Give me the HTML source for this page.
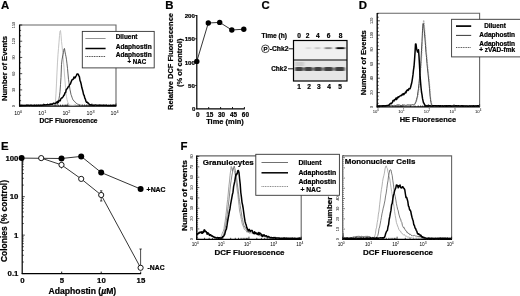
<!DOCTYPE html>
<html lang="en"><head><meta charset="utf-8"><title>Figure</title>
<style>html,body{margin:0;padding:0;background:#fff}body{width:520px;height:296px;overflow:hidden}svg{display:block;font-family:"Liberation Sans",Arial,Helvetica,sans-serif}text[font-weight=bold]{stroke:#000;stroke-width:0.22px;stroke-linejoin:round}</style></head><body>
<svg width="520" height="296" viewBox="0 0 520 296">
<defs><filter id="soft" x="-2%" y="-2%" width="104%" height="104%"><feGaussianBlur stdDeviation="0.28"/></filter><filter id="band" x="-20%" y="-50%" width="140%" height="200%"><feGaussianBlur stdDeviation="0.9 0.6"/></filter></defs>
<rect width="520" height="296" fill="#fff"/>
<g filter="url(#soft)">
<text x="1" y="9.3" font-size="11.4" text-anchor="start" font-weight="bold" fill="#000" >A</text>
<polyline points="19.6,25 116,25 116,106.1" fill="none" stroke="#666" stroke-width="1.1"/>
<line x1="19.6" y1="24.6" x2="19.6" y2="106.6" stroke="#000" stroke-width="1.3" />
<line x1="19.1" y1="106.1" x2="116.4" y2="106.1" stroke="#000" stroke-width="1.3" />
<line x1="19.60" y1="106.1" x2="19.60" y2="103.50" stroke="#000" stroke-width="0.7" />
<line x1="26.85" y1="106.1" x2="26.85" y2="104.60" stroke="#000" stroke-width="0.7" />
<line x1="31.10" y1="106.1" x2="31.10" y2="104.60" stroke="#000" stroke-width="0.7" />
<line x1="34.11" y1="106.1" x2="34.11" y2="104.60" stroke="#000" stroke-width="0.7" />
<line x1="36.45" y1="106.1" x2="36.45" y2="104.60" stroke="#000" stroke-width="0.7" />
<line x1="38.35" y1="106.1" x2="38.35" y2="104.60" stroke="#000" stroke-width="0.7" />
<line x1="39.97" y1="106.1" x2="39.97" y2="104.60" stroke="#000" stroke-width="0.7" />
<line x1="41.36" y1="106.1" x2="41.36" y2="104.60" stroke="#000" stroke-width="0.7" />
<line x1="42.60" y1="106.1" x2="42.60" y2="104.60" stroke="#000" stroke-width="0.7" />
<line x1="43.70" y1="106.1" x2="43.70" y2="103.50" stroke="#000" stroke-width="0.7" />
<line x1="50.95" y1="106.1" x2="50.95" y2="104.60" stroke="#000" stroke-width="0.7" />
<line x1="55.20" y1="106.1" x2="55.20" y2="104.60" stroke="#000" stroke-width="0.7" />
<line x1="58.21" y1="106.1" x2="58.21" y2="104.60" stroke="#000" stroke-width="0.7" />
<line x1="60.55" y1="106.1" x2="60.55" y2="104.60" stroke="#000" stroke-width="0.7" />
<line x1="62.45" y1="106.1" x2="62.45" y2="104.60" stroke="#000" stroke-width="0.7" />
<line x1="64.07" y1="106.1" x2="64.07" y2="104.60" stroke="#000" stroke-width="0.7" />
<line x1="65.46" y1="106.1" x2="65.46" y2="104.60" stroke="#000" stroke-width="0.7" />
<line x1="66.70" y1="106.1" x2="66.70" y2="104.60" stroke="#000" stroke-width="0.7" />
<line x1="67.80" y1="106.1" x2="67.80" y2="103.50" stroke="#000" stroke-width="0.7" />
<line x1="75.05" y1="106.1" x2="75.05" y2="104.60" stroke="#000" stroke-width="0.7" />
<line x1="79.30" y1="106.1" x2="79.30" y2="104.60" stroke="#000" stroke-width="0.7" />
<line x1="82.31" y1="106.1" x2="82.31" y2="104.60" stroke="#000" stroke-width="0.7" />
<line x1="84.65" y1="106.1" x2="84.65" y2="104.60" stroke="#000" stroke-width="0.7" />
<line x1="86.55" y1="106.1" x2="86.55" y2="104.60" stroke="#000" stroke-width="0.7" />
<line x1="88.17" y1="106.1" x2="88.17" y2="104.60" stroke="#000" stroke-width="0.7" />
<line x1="89.56" y1="106.1" x2="89.56" y2="104.60" stroke="#000" stroke-width="0.7" />
<line x1="90.80" y1="106.1" x2="90.80" y2="104.60" stroke="#000" stroke-width="0.7" />
<line x1="91.90" y1="106.1" x2="91.90" y2="103.50" stroke="#000" stroke-width="0.7" />
<line x1="99.15" y1="106.1" x2="99.15" y2="104.60" stroke="#000" stroke-width="0.7" />
<line x1="103.40" y1="106.1" x2="103.40" y2="104.60" stroke="#000" stroke-width="0.7" />
<line x1="106.41" y1="106.1" x2="106.41" y2="104.60" stroke="#000" stroke-width="0.7" />
<line x1="108.75" y1="106.1" x2="108.75" y2="104.60" stroke="#000" stroke-width="0.7" />
<line x1="110.65" y1="106.1" x2="110.65" y2="104.60" stroke="#000" stroke-width="0.7" />
<line x1="112.27" y1="106.1" x2="112.27" y2="104.60" stroke="#000" stroke-width="0.7" />
<line x1="113.66" y1="106.1" x2="113.66" y2="104.60" stroke="#000" stroke-width="0.7" />
<line x1="114.90" y1="106.1" x2="114.90" y2="104.60" stroke="#000" stroke-width="0.7" />
<line x1="116" y1="106.1" x2="116" y2="103.5" stroke="#000" stroke-width="0.7" />
<line x1="19.6" y1="106.10" x2="22.200000000000003" y2="106.10" stroke="#000" stroke-width="0.7" />
<line x1="19.6" y1="100.69" x2="21.1" y2="100.69" stroke="#000" stroke-width="0.7" />
<line x1="19.6" y1="95.29" x2="21.1" y2="95.29" stroke="#000" stroke-width="0.7" />
<line x1="19.6" y1="89.88" x2="22.200000000000003" y2="89.88" stroke="#000" stroke-width="0.7" />
<line x1="19.6" y1="84.47" x2="21.1" y2="84.47" stroke="#000" stroke-width="0.7" />
<line x1="19.6" y1="79.07" x2="21.1" y2="79.07" stroke="#000" stroke-width="0.7" />
<line x1="19.6" y1="73.66" x2="22.200000000000003" y2="73.66" stroke="#000" stroke-width="0.7" />
<line x1="19.6" y1="68.25" x2="21.1" y2="68.25" stroke="#000" stroke-width="0.7" />
<line x1="19.6" y1="62.85" x2="21.1" y2="62.85" stroke="#000" stroke-width="0.7" />
<line x1="19.6" y1="57.44" x2="22.200000000000003" y2="57.44" stroke="#000" stroke-width="0.7" />
<line x1="19.6" y1="52.03" x2="21.1" y2="52.03" stroke="#000" stroke-width="0.7" />
<line x1="19.6" y1="46.63" x2="21.1" y2="46.63" stroke="#000" stroke-width="0.7" />
<line x1="19.6" y1="41.22" x2="22.200000000000003" y2="41.22" stroke="#000" stroke-width="0.7" />
<line x1="19.6" y1="35.81" x2="21.1" y2="35.81" stroke="#000" stroke-width="0.7" />
<line x1="19.6" y1="30.41" x2="21.1" y2="30.41" stroke="#000" stroke-width="0.7" />
<line x1="19.6" y1="25.00" x2="22.200000000000003" y2="25.00" stroke="#000" stroke-width="0.7" />
<text transform="translate(15.0,106.1) rotate(-90)" font-size="3.8" text-anchor="middle" font-weight="normal" fill="#000">0</text>
<text transform="translate(15.0,89.9) rotate(-90)" font-size="3.8" text-anchor="middle" font-weight="normal" fill="#000">30</text>
<text transform="translate(15.0,73.7) rotate(-90)" font-size="3.8" text-anchor="middle" font-weight="normal" fill="#000">60</text>
<text transform="translate(15.0,57.4) rotate(-90)" font-size="3.8" text-anchor="middle" font-weight="normal" fill="#000">90</text>
<text transform="translate(15.0,41.2) rotate(-90)" font-size="3.8" text-anchor="middle" font-weight="normal" fill="#000">120</text>
<text transform="translate(15.0,25.0) rotate(-90)" font-size="3.8" text-anchor="middle" font-weight="normal" fill="#000">150</text>
<text x="18.2" y="115.0" font-size="5.3" text-anchor="middle" font-weight="normal" fill="#000">10<tspan dy="-2" font-size="3.8">0</tspan></text>
<text x="42.3" y="115.0" font-size="5.3" text-anchor="middle" font-weight="normal" fill="#000">10<tspan dy="-2" font-size="3.8">1</tspan></text>
<text x="66.4" y="115.0" font-size="5.3" text-anchor="middle" font-weight="normal" fill="#000">10<tspan dy="-2" font-size="3.8">2</tspan></text>
<text x="90.5" y="115.0" font-size="5.3" text-anchor="middle" font-weight="normal" fill="#000">10<tspan dy="-2" font-size="3.8">3</tspan></text>
<text x="114.6" y="115.0" font-size="5.3" text-anchor="middle" font-weight="normal" fill="#000">10<tspan dy="-2" font-size="3.8">4</tspan></text>
<text transform="translate(6.9,68.5) rotate(-90)" font-size="7.6" text-anchor="middle" font-weight="bold" textLength="65" lengthAdjust="spacingAndGlyphs" >Number of Events</text>
<text x="68.5" y="123.3" font-size="6.6" text-anchor="middle" font-weight="bold" fill="#000" textLength="58" lengthAdjust="spacingAndGlyphs" >DCF Fluorescence</text>
<polyline points="20.0,105.4 20.5,105.4 21.0,105.5 21.5,105.4 22.0,105.4 22.5,105.4 23.0,105.3 23.5,105.4 24.0,105.4 24.5,105.5 25.0,105.3 25.5,105.4 26.0,105.3 26.5,105.5 27.0,105.4 27.5,105.3 28.0,105.5 28.5,105.5 29.0,105.4 29.5,105.4 30.0,105.3 30.5,105.3 31.0,105.4 31.5,105.3 32.0,105.3 32.5,105.3 33.0,105.3 33.5,105.4 34.0,105.4 34.5,105.5 35.0,105.4 35.5,105.4 36.0,105.4 36.5,105.4 37.0,105.4 37.5,105.3 38.0,105.5 38.5,105.5 39.0,105.5 39.5,105.5 40.0,105.4 40.5,105.3 41.0,105.3 41.5,105.3 42.0,105.5 42.5,105.4 43.0,105.5 43.5,105.4 44.0,105.5 44.5,105.5 45.0,105.3 45.5,105.3 46.0,105.5 46.5,105.4 47.0,105.5 47.5,105.4 48.0,105.3 48.5,105.4 49.0,105.5 49.5,105.3 50.0,105.3 50.5,105.4 51.0,105.5 51.5,105.4 52.0,105.2 52.5,105.2 53.0,105.1 53.5,105.0 54.0,105.1 54.5,104.4 55.0,103.5 55.5,101.1 56.0,93.1 56.5,83.1 57.0,72.1 57.5,62.1 58.0,54.3 58.5,48.4 59.0,42.2 59.5,35.5 60.0,31.1 60.5,30.5 61.0,35.1 61.5,41.4 62.0,45.6 62.5,50.8 63.0,56.7 63.5,62.2 64.0,67.6 64.5,75.0 65.0,81.0 65.5,87.2 66.0,93.6 66.5,96.8 67.0,99.5 67.5,101.3 68.0,102.7 68.5,103.9 69.0,104.5 69.5,105.1 70.0,105.1 70.5,105.2 71.0,105.4 71.5,105.3 72.0,105.3 72.5,105.4 73.0,105.3 73.5,105.3 74.0,105.5 74.5,105.5 75.0,105.3 75.5,105.3 76.0,105.5" fill="none" stroke="#bdbdbd" stroke-width="0.9" stroke-linejoin="round" />
<polyline points="20.0,105.5 20.5,105.3 21.0,105.5 21.5,105.5 22.0,105.4 22.5,105.4 23.0,105.3 23.5,105.3 24.0,105.5 24.5,105.3 25.0,105.5 25.5,105.3 26.0,105.5 26.5,105.4 27.0,105.3 27.5,105.3 28.0,105.5 28.5,105.3 29.0,105.3 29.5,105.4 30.0,105.5 30.5,105.4 31.0,105.3 31.5,105.5 32.0,105.3 32.5,105.3 33.0,105.3 33.5,105.4 34.0,105.3 34.5,105.3 35.0,105.4 35.5,105.4 36.0,105.3 36.5,105.4 37.0,105.5 37.5,105.5 38.0,105.4 38.5,105.4 39.0,105.4 39.5,105.3 40.0,105.3 40.5,105.3 41.0,105.5 41.5,105.5 42.0,105.5 42.5,105.3 43.0,105.4 43.5,105.4 44.0,105.5 44.5,105.4 45.0,105.5 45.5,105.3 46.0,105.4 46.5,105.5 47.0,105.5 47.5,105.5 48.0,105.5 48.5,105.5 49.0,105.5 49.5,105.4 50.0,105.4 50.5,105.5 51.0,105.5 51.5,105.4 52.0,105.5 52.5,105.5 53.0,105.4 53.5,105.4 54.0,105.4 54.5,105.4 55.0,105.4 55.5,105.2 56.0,105.3 56.5,105.2 57.0,104.9 57.5,104.3 58.0,102.8 58.5,101.2 59.0,98.6 59.5,95.7 60.0,91.8 60.5,84.6 61.0,77.3 61.5,64.6 62.0,59.8 62.5,57.0 63.0,54.7 63.5,52.4 64.0,48.8 64.5,48.5 65.0,51.9 65.5,54.3 66.0,56.7 66.5,59.8 67.0,63.8 67.5,68.4 68.0,73.9 68.5,79.3 69.0,82.8 69.5,86.1 70.0,89.8 70.5,92.0 71.0,94.6 71.5,95.8 72.0,97.3 72.5,98.7 73.0,99.8 73.5,100.5 74.0,100.7 74.5,101.6 75.0,101.9 75.5,102.3 76.0,103.0 76.5,103.6 77.0,103.9 77.5,104.1 78.0,104.5 78.5,104.4 79.0,104.6 79.5,104.9 80.0,105.0 80.5,105.1 81.0,105.2 81.5,105.3 82.0,105.3 82.5,105.2 83.0,105.4 83.5,105.4 84.0,105.3 84.5,105.2 85.0,105.2 85.5,105.5 86.0,105.3 86.5,105.4 87.0,105.4 87.5,105.3 88.0,105.5 88.5,105.3 89.0,105.3 89.5,105.4 90.0,105.3" fill="none" stroke="#3a3a3a" stroke-width="0.8" stroke-linejoin="round" />
<polyline points="20.0,105.6 20.6,105.3 21.2,105.2 21.8,105.2 22.4,105.5 23.0,105.4 23.6,105.5 24.2,105.5 24.8,105.6 25.4,105.6 26.0,105.5 26.6,105.2 27.2,105.4 27.8,105.2 28.4,105.2 29.0,105.4 29.6,105.5 30.2,105.2 30.8,105.3 31.4,105.3 32.0,105.5 32.6,105.4 33.2,105.5 33.8,105.5 34.4,105.3 35.0,105.5 35.6,105.6 36.2,105.2 36.8,105.6 37.4,105.5 38.0,105.2 38.6,105.3 39.2,105.4 39.8,105.5 40.4,105.2 41.0,105.2 41.6,105.4 42.2,105.3 42.8,105.3 43.4,105.0 44.0,105.1 44.6,104.7 45.2,105.0 45.8,105.0 46.4,104.8 47.0,104.8 47.6,104.3 48.2,104.8 48.8,104.8 49.4,104.7 50.0,104.2 50.6,104.4 51.2,103.9 51.8,104.3 52.4,104.2 53.0,103.6 53.6,103.2 54.2,103.4 54.8,103.4 55.4,103.5 56.0,102.9 56.6,102.0 57.2,102.9 57.8,101.3 58.4,102.2 59.0,100.6 59.6,100.4 60.2,100.8 60.8,98.9 61.4,98.1 62.0,98.0 62.6,97.4 63.2,96.6 63.8,95.3 64.4,94.8 65.0,92.8 65.6,92.6 66.2,89.8 66.8,89.0 67.4,88.5 68.0,87.0 68.6,86.8 69.2,85.6 69.8,84.3 70.4,84.0 71.0,82.3 71.6,80.7 72.2,79.6 72.8,79.6 73.4,78.9 74.0,77.0 74.6,78.0 75.2,77.8 75.8,76.4 76.4,75.6 77.0,73.9 77.6,73.9 78.2,74.1 78.8,75.8 79.4,76.6 80.0,80.5 80.6,81.9 81.2,84.2 81.8,87.6 82.4,89.5 83.0,91.8 83.6,94.6 84.2,95.5 84.8,98.1 85.4,99.2 86.0,101.4 86.6,102.3 87.2,102.1 87.8,103.0 88.4,103.1 89.0,103.9 89.6,104.6 90.2,104.9 90.8,104.8 91.4,104.9 92.0,105.0 92.6,105.3 93.2,105.5 93.8,105.0 94.4,105.4 95.0,105.0 95.6,105.1 96.2,105.1 96.8,105.4 97.4,105.2 98.0,105.2 98.6,105.4 99.2,105.1 99.8,105.4 100.4,105.1 101.0,105.3 101.6,105.2 102.2,105.2 102.8,105.4 103.4,105.3 104.0,105.3 104.6,105.3 105.2,105.4 105.8,105.2 106.4,105.2 107.0,105.4 107.6,105.5 108.2,105.4 108.8,105.6 109.4,105.4 110.0,105.6 110.6,105.3 111.2,105.5 111.8,105.6 112.4,105.6 113.0,105.3 113.6,105.3 114.2,105.6 114.8,105.3 115.4,105.6 116.0,105.6" fill="none" stroke="#000" stroke-width="1.5" stroke-linejoin="round" />
<rect x="82.3" y="31.4" width="71.9" height="36.5" fill="#fff" stroke="#333" stroke-width="0.9"/>
<line x1="85.4" y1="38.5" x2="105.6" y2="38.5" stroke="#888" stroke-width="0.9" />
<line x1="85.4" y1="48.5" x2="105.6" y2="48.5" stroke="#000" stroke-width="1.5" />
<line x1="85.4" y1="56.5" x2="105.6" y2="56.5" stroke="#444" stroke-width="1.0" stroke-dasharray="1 0.7"/>
<text x="115.7" y="39.3" font-size="6.5" text-anchor="start" font-weight="bold" fill="#000" textLength="21.8" lengthAdjust="spacingAndGlyphs" >Diluent</text>
<text x="115.7" y="49.1" font-size="6.5" text-anchor="start" font-weight="bold" fill="#000" textLength="36" lengthAdjust="spacingAndGlyphs" >Adaphostin</text>
<text x="115.7" y="57.1" font-size="6.5" text-anchor="start" font-weight="bold" fill="#000" textLength="36" lengthAdjust="spacingAndGlyphs" >Adaphostin</text>
<text x="127.4" y="64.1" font-size="6.5" text-anchor="start" font-weight="bold" fill="#000" textLength="18.8" lengthAdjust="spacingAndGlyphs" >+ NAC</text>
<text x="165.2" y="9.3" font-size="11.4" text-anchor="start" font-weight="bold" fill="#000" >B</text>
<line x1="196.8" y1="15.1" x2="196.8" y2="109.3" stroke="#000" stroke-width="1.2" />
<line x1="196.3" y1="108.8" x2="244.8" y2="108.8" stroke="#000" stroke-width="1.2" />
<line x1="195.20000000000002" y1="85.475" x2="196.8" y2="85.475" stroke="#000" stroke-width="0.9" />
<line x1="195.20000000000002" y1="62.15" x2="196.8" y2="62.15" stroke="#000" stroke-width="0.9" />
<line x1="195.20000000000002" y1="38.825" x2="196.8" y2="38.825" stroke="#000" stroke-width="0.9" />
<line x1="195.20000000000002" y1="15.5" x2="196.8" y2="15.5" stroke="#000" stroke-width="0.9" />
<text x="195.4" y="111.2" font-size="6.2" text-anchor="end" font-weight="bold" fill="#000" >0</text>
<text x="195.0" y="88.07499999999999" font-size="6.2" text-anchor="end" font-weight="bold" fill="#000" >50</text>
<text x="195.0" y="64.75" font-size="6.2" text-anchor="end" font-weight="bold" fill="#000" >100</text>
<text x="195.0" y="41.425000000000004" font-size="6.2" text-anchor="end" font-weight="bold" fill="#000" >150</text>
<text x="195.0" y="18.1" font-size="6.2" text-anchor="end" font-weight="bold" fill="#000" >200</text>
<text x="197.8" y="116.6" font-size="6.4" text-anchor="middle" font-weight="bold" fill="#000" >0</text>
<line x1="208.70000000000002" y1="108.8" x2="208.70000000000002" y2="107.0" stroke="#000" stroke-width="0.9" />
<text x="209.70000000000002" y="116.6" font-size="6.4" text-anchor="middle" font-weight="bold" fill="#000" >15</text>
<line x1="220.60000000000002" y1="108.8" x2="220.60000000000002" y2="107.0" stroke="#000" stroke-width="0.9" />
<text x="221.60000000000002" y="116.6" font-size="6.4" text-anchor="middle" font-weight="bold" fill="#000" >30</text>
<line x1="232.5" y1="108.8" x2="232.5" y2="107.0" stroke="#000" stroke-width="0.9" />
<text x="233.5" y="116.6" font-size="6.4" text-anchor="middle" font-weight="bold" fill="#000" >45</text>
<line x1="244.4" y1="108.8" x2="244.4" y2="107.0" stroke="#000" stroke-width="0.9" />
<text x="245.4" y="116.6" font-size="6.4" text-anchor="middle" font-weight="bold" fill="#000" >60</text>
<text x="225" y="124.2" font-size="7.4" text-anchor="middle" font-weight="bold" fill="#000" textLength="37.6" lengthAdjust="spacingAndGlyphs" >Time (min)</text>
<text transform="translate(172.7,61.5) rotate(-90)" font-size="7.5" text-anchor="middle" font-weight="bold" textLength="97" lengthAdjust="spacingAndGlyphs" >Relative DCF Fluorescence</text>
<text transform="translate(181.9,62.8) rotate(-90)" font-size="7.5" text-anchor="middle" font-weight="bold" textLength="48.4" lengthAdjust="spacingAndGlyphs" >(% of control)</text>
<polyline points="196.8,61.4 208.3,23.0 219.7,22.4 231.8,30.0 243.8,29.2" fill="none" stroke="#000" stroke-width="0.8" stroke-linejoin="round" />
<circle cx="196.8" cy="61.4" r="2.7" fill="#000"/>
<circle cx="208.3" cy="23" r="2.7" fill="#000"/>
<circle cx="219.7" cy="22.4" r="2.7" fill="#000"/>
<circle cx="231.8" cy="30" r="2.7" fill="#000"/>
<circle cx="243.8" cy="29.2" r="2.7" fill="#000"/>
<text x="261.5" y="9.3" font-size="11.4" text-anchor="start" font-weight="bold" fill="#000" >C</text>
<text x="261.5" y="38.4" font-size="6.6" text-anchor="start" font-weight="bold" fill="#000" textLength="25.5" lengthAdjust="spacingAndGlyphs" >Time (h)</text>
<text x="299" y="38.4" font-size="6.6" text-anchor="middle" font-weight="bold" fill="#000" >0</text>
<text x="307.6" y="38.4" font-size="6.6" text-anchor="middle" font-weight="bold" fill="#000" >2</text>
<text x="317.8" y="38.4" font-size="6.6" text-anchor="middle" font-weight="bold" fill="#000" >4</text>
<text x="328.6" y="38.4" font-size="6.6" text-anchor="middle" font-weight="bold" fill="#000" >6</text>
<text x="340.5" y="38.4" font-size="6.6" text-anchor="middle" font-weight="bold" fill="#000" >8</text>
<rect x="293.5" y="40.5" width="53.5" height="40.5" fill="#e6e6e6" stroke="none"/>
<rect x="293.5" y="40.5" width="53.5" height="19.5" fill="#f1f1f1" stroke="none"/>
<g filter="url(#band)">
<rect x="306.0" y="47.2" width="5" height="1.9" fill="#888" opacity="0.22"/>
<rect x="314.75" y="47.2" width="5.5" height="1.9" fill="#777" opacity="0.33"/>
<rect x="324.7" y="47.2" width="7" height="1.9" fill="#444" opacity="0.62"/>
<rect x="336.09999999999997" y="47.2" width="8.6" height="1.9" fill="#111" opacity="1"/>
<rect x="295" y="67.6" width="50" height="3.0" fill="#777" opacity="0.8"/>
<rect x="295.2" y="67.1" width="7.6" height="4.0" rx="1.2" fill="#414141"/>
<rect x="304.59999999999997" y="67.1" width="7.6" height="4.0" rx="1.2" fill="#414141"/>
<rect x="314.2" y="67.1" width="7.6" height="4.0" rx="1.2" fill="#414141"/>
<rect x="324.09999999999997" y="67.1" width="8.6" height="4.0" rx="1.2" fill="#414141"/>
<rect x="335.09999999999997" y="67.1" width="9.2" height="4.0" rx="1.2" fill="#414141"/>
<rect x="295" y="62" width="9" height="4" fill="#bbb" opacity="0.6"/>
</g>
<rect x="293.5" y="40.5" width="53.5" height="40.5" fill="none" stroke="#000" stroke-width="1.2"/>
<line x1="293.5" y1="60" x2="347" y2="60" stroke="#000" stroke-width="1.2" />
<circle cx="265.4" cy="48.8" r="3.8" fill="#fff" stroke="#000" stroke-width="0.7"/>
<text x="265.5" y="51" font-size="6.0" text-anchor="middle" font-weight="bold" fill="#000" >P</text>
<text x="269.7" y="50.8" font-size="6.7" text-anchor="start" font-weight="bold" fill="#000" textLength="18.8" lengthAdjust="spacingAndGlyphs" >-Chk2</text>
<line x1="288.5" y1="48.8" x2="293.5" y2="48.8" stroke="#000" stroke-width="0.9" />
<text x="271.2" y="70.7" font-size="6.7" text-anchor="start" font-weight="bold" fill="#000" textLength="15.8" lengthAdjust="spacingAndGlyphs" >Chk2</text>
<line x1="288" y1="68.8" x2="293.5" y2="68.8" stroke="#000" stroke-width="0.9" />
<text x="299" y="88.7" font-size="6.6" text-anchor="middle" font-weight="bold" fill="#000" >1</text>
<text x="309" y="88.7" font-size="6.6" text-anchor="middle" font-weight="bold" fill="#000" >2</text>
<text x="318.9" y="88.7" font-size="6.6" text-anchor="middle" font-weight="bold" fill="#000" >3</text>
<text x="329.2" y="88.7" font-size="6.6" text-anchor="middle" font-weight="bold" fill="#000" >4</text>
<text x="340" y="88.7" font-size="6.6" text-anchor="middle" font-weight="bold" fill="#000" >5</text>
<text x="358.7" y="9.3" font-size="11.4" text-anchor="start" font-weight="bold" fill="#000" >D</text>
<polyline points="377.2,13.3 479.6,13.3 479.6,106.9" fill="none" stroke="#666" stroke-width="1.1"/>
<line x1="377.2" y1="12.9" x2="377.2" y2="107.4" stroke="#000" stroke-width="1.3" />
<line x1="376.7" y1="106.9" x2="480.0" y2="106.9" stroke="#000" stroke-width="1.3" />
<line x1="377.20" y1="106.9" x2="377.20" y2="104.30" stroke="#000" stroke-width="0.7" />
<line x1="384.91" y1="106.9" x2="384.91" y2="105.40" stroke="#000" stroke-width="0.7" />
<line x1="389.41" y1="106.9" x2="389.41" y2="105.40" stroke="#000" stroke-width="0.7" />
<line x1="392.61" y1="106.9" x2="392.61" y2="105.40" stroke="#000" stroke-width="0.7" />
<line x1="395.09" y1="106.9" x2="395.09" y2="105.40" stroke="#000" stroke-width="0.7" />
<line x1="397.12" y1="106.9" x2="397.12" y2="105.40" stroke="#000" stroke-width="0.7" />
<line x1="398.83" y1="106.9" x2="398.83" y2="105.40" stroke="#000" stroke-width="0.7" />
<line x1="400.32" y1="106.9" x2="400.32" y2="105.40" stroke="#000" stroke-width="0.7" />
<line x1="401.63" y1="106.9" x2="401.63" y2="105.40" stroke="#000" stroke-width="0.7" />
<line x1="402.80" y1="106.9" x2="402.80" y2="104.30" stroke="#000" stroke-width="0.7" />
<line x1="410.51" y1="106.9" x2="410.51" y2="105.40" stroke="#000" stroke-width="0.7" />
<line x1="415.01" y1="106.9" x2="415.01" y2="105.40" stroke="#000" stroke-width="0.7" />
<line x1="418.21" y1="106.9" x2="418.21" y2="105.40" stroke="#000" stroke-width="0.7" />
<line x1="420.69" y1="106.9" x2="420.69" y2="105.40" stroke="#000" stroke-width="0.7" />
<line x1="422.72" y1="106.9" x2="422.72" y2="105.40" stroke="#000" stroke-width="0.7" />
<line x1="424.43" y1="106.9" x2="424.43" y2="105.40" stroke="#000" stroke-width="0.7" />
<line x1="425.92" y1="106.9" x2="425.92" y2="105.40" stroke="#000" stroke-width="0.7" />
<line x1="427.23" y1="106.9" x2="427.23" y2="105.40" stroke="#000" stroke-width="0.7" />
<line x1="428.40" y1="106.9" x2="428.40" y2="104.30" stroke="#000" stroke-width="0.7" />
<line x1="436.11" y1="106.9" x2="436.11" y2="105.40" stroke="#000" stroke-width="0.7" />
<line x1="440.61" y1="106.9" x2="440.61" y2="105.40" stroke="#000" stroke-width="0.7" />
<line x1="443.81" y1="106.9" x2="443.81" y2="105.40" stroke="#000" stroke-width="0.7" />
<line x1="446.29" y1="106.9" x2="446.29" y2="105.40" stroke="#000" stroke-width="0.7" />
<line x1="448.32" y1="106.9" x2="448.32" y2="105.40" stroke="#000" stroke-width="0.7" />
<line x1="450.03" y1="106.9" x2="450.03" y2="105.40" stroke="#000" stroke-width="0.7" />
<line x1="451.52" y1="106.9" x2="451.52" y2="105.40" stroke="#000" stroke-width="0.7" />
<line x1="452.83" y1="106.9" x2="452.83" y2="105.40" stroke="#000" stroke-width="0.7" />
<line x1="454.00" y1="106.9" x2="454.00" y2="104.30" stroke="#000" stroke-width="0.7" />
<line x1="461.71" y1="106.9" x2="461.71" y2="105.40" stroke="#000" stroke-width="0.7" />
<line x1="466.21" y1="106.9" x2="466.21" y2="105.40" stroke="#000" stroke-width="0.7" />
<line x1="469.41" y1="106.9" x2="469.41" y2="105.40" stroke="#000" stroke-width="0.7" />
<line x1="471.89" y1="106.9" x2="471.89" y2="105.40" stroke="#000" stroke-width="0.7" />
<line x1="473.92" y1="106.9" x2="473.92" y2="105.40" stroke="#000" stroke-width="0.7" />
<line x1="475.63" y1="106.9" x2="475.63" y2="105.40" stroke="#000" stroke-width="0.7" />
<line x1="477.12" y1="106.9" x2="477.12" y2="105.40" stroke="#000" stroke-width="0.7" />
<line x1="478.43" y1="106.9" x2="478.43" y2="105.40" stroke="#000" stroke-width="0.7" />
<line x1="479.6" y1="106.9" x2="479.6" y2="104.30000000000001" stroke="#000" stroke-width="0.7" />
<line x1="377.2" y1="106.90" x2="379.8" y2="106.90" stroke="#000" stroke-width="0.7" />
<line x1="377.2" y1="103.31" x2="378.7" y2="103.31" stroke="#000" stroke-width="0.7" />
<line x1="377.2" y1="99.73" x2="378.7" y2="99.73" stroke="#000" stroke-width="0.7" />
<line x1="377.2" y1="96.14" x2="378.7" y2="96.14" stroke="#000" stroke-width="0.7" />
<line x1="377.2" y1="92.55" x2="379.8" y2="92.55" stroke="#000" stroke-width="0.7" />
<line x1="377.2" y1="88.96" x2="378.7" y2="88.96" stroke="#000" stroke-width="0.7" />
<line x1="377.2" y1="85.38" x2="378.7" y2="85.38" stroke="#000" stroke-width="0.7" />
<line x1="377.2" y1="81.79" x2="378.7" y2="81.79" stroke="#000" stroke-width="0.7" />
<line x1="377.2" y1="78.20" x2="379.8" y2="78.20" stroke="#000" stroke-width="0.7" />
<line x1="377.2" y1="74.61" x2="378.7" y2="74.61" stroke="#000" stroke-width="0.7" />
<line x1="377.2" y1="71.03" x2="378.7" y2="71.03" stroke="#000" stroke-width="0.7" />
<line x1="377.2" y1="67.44" x2="378.7" y2="67.44" stroke="#000" stroke-width="0.7" />
<line x1="377.2" y1="63.85" x2="379.8" y2="63.85" stroke="#000" stroke-width="0.7" />
<line x1="377.2" y1="60.26" x2="378.7" y2="60.26" stroke="#000" stroke-width="0.7" />
<line x1="377.2" y1="56.68" x2="378.7" y2="56.68" stroke="#000" stroke-width="0.7" />
<line x1="377.2" y1="53.09" x2="378.7" y2="53.09" stroke="#000" stroke-width="0.7" />
<line x1="377.2" y1="49.50" x2="379.8" y2="49.50" stroke="#000" stroke-width="0.7" />
<line x1="377.2" y1="45.91" x2="378.7" y2="45.91" stroke="#000" stroke-width="0.7" />
<line x1="377.2" y1="42.33" x2="378.7" y2="42.33" stroke="#000" stroke-width="0.7" />
<line x1="377.2" y1="38.74" x2="378.7" y2="38.74" stroke="#000" stroke-width="0.7" />
<line x1="377.2" y1="35.15" x2="379.8" y2="35.15" stroke="#000" stroke-width="0.7" />
<line x1="377.2" y1="31.56" x2="378.7" y2="31.56" stroke="#000" stroke-width="0.7" />
<line x1="377.2" y1="27.98" x2="378.7" y2="27.98" stroke="#000" stroke-width="0.7" />
<line x1="377.2" y1="24.39" x2="378.7" y2="24.39" stroke="#000" stroke-width="0.7" />
<line x1="377.2" y1="20.80" x2="379.8" y2="20.80" stroke="#000" stroke-width="0.7" />
<line x1="377.2" y1="17.21" x2="378.7" y2="17.21" stroke="#000" stroke-width="0.7" />
<line x1="377.2" y1="13.62" x2="378.7" y2="13.62" stroke="#000" stroke-width="0.7" />
<text transform="translate(373.0,106.9) rotate(-90)" font-size="3.8" text-anchor="middle" font-weight="normal" fill="#000">0</text>
<text transform="translate(373.0,92.6) rotate(-90)" font-size="3.8" text-anchor="middle" font-weight="normal" fill="#000">20</text>
<text transform="translate(373.0,78.2) rotate(-90)" font-size="3.8" text-anchor="middle" font-weight="normal" fill="#000">40</text>
<text transform="translate(373.0,63.9) rotate(-90)" font-size="3.8" text-anchor="middle" font-weight="normal" fill="#000">60</text>
<text transform="translate(373.0,49.5) rotate(-90)" font-size="3.8" text-anchor="middle" font-weight="normal" fill="#000">80</text>
<text transform="translate(373.0,35.2) rotate(-90)" font-size="3.8" text-anchor="middle" font-weight="normal" fill="#000">100</text>
<text transform="translate(373.0,20.8) rotate(-90)" font-size="3.8" text-anchor="middle" font-weight="normal" fill="#000">120</text>
<text x="375.8" y="112.9" font-size="4.2" text-anchor="middle" font-weight="normal" fill="#000">10<tspan dy="-2" font-size="3.0">0</tspan></text>
<text x="401.4" y="112.9" font-size="4.2" text-anchor="middle" font-weight="normal" fill="#000">10<tspan dy="-2" font-size="3.0">1</tspan></text>
<text x="427.0" y="112.9" font-size="4.2" text-anchor="middle" font-weight="normal" fill="#000">10<tspan dy="-2" font-size="3.0">2</tspan></text>
<text x="452.6" y="112.9" font-size="4.2" text-anchor="middle" font-weight="normal" fill="#000">10<tspan dy="-2" font-size="3.0">3</tspan></text>
<text x="478.2" y="112.9" font-size="4.2" text-anchor="middle" font-weight="normal" fill="#000">10<tspan dy="-2" font-size="3.0">4</tspan></text>
<text transform="translate(366.4,62.7) rotate(-90)" font-size="7.6" text-anchor="middle" font-weight="bold" textLength="65" lengthAdjust="spacingAndGlyphs" >Number of Events</text>
<text x="427.9" y="122" font-size="7.3" text-anchor="middle" font-weight="bold" fill="#000" textLength="56.5" lengthAdjust="spacingAndGlyphs" >HE Fluoresence</text>
<polyline points="377.5,105.9 378.0,105.9 378.5,106.1 379.0,105.9 379.5,105.9 380.0,106.1 380.5,106.0 381.0,106.1 381.5,105.9 382.0,105.9 382.5,106.0 383.0,105.8 383.5,105.9 384.0,106.0 384.5,106.1 385.0,106.1 385.5,105.8 386.0,105.9 386.5,106.0 387.0,105.9 387.5,106.0 388.0,105.8 388.5,105.7 389.0,105.7 389.5,105.7 390.0,105.9 390.5,105.8 391.0,105.9 391.5,105.7 392.0,105.7 392.5,105.7 393.0,105.9 393.5,105.9 394.0,105.8 394.5,105.3 395.0,105.2 395.5,105.5 396.0,105.2 396.5,105.3 397.0,105.0 397.5,105.0 398.0,105.0 398.5,105.0 399.0,105.1 399.5,104.9 400.0,105.4 400.5,105.5 401.0,105.3 401.5,105.5 402.0,105.6 402.5,105.4 403.0,105.3 403.5,105.3 404.0,105.4 404.5,105.1 405.0,105.5 405.5,105.4 406.0,105.3 406.5,105.3 407.0,105.2 407.5,105.0 408.0,105.1 408.5,105.0 409.0,105.2 409.5,105.1 410.0,104.7 410.5,105.1 411.0,105.0 411.5,105.0 412.0,105.0 412.5,104.7 413.0,105.0 413.5,104.9 414.0,104.7 414.5,104.4 415.0,103.8 415.5,102.4 416.0,101.6 416.5,99.4 417.0,98.0 417.5,95.6 418.0,91.8 418.5,88.3 419.0,83.5 419.5,78.2 420.0,72.7 420.5,68.3 421.0,60.2 421.5,50.2 422.0,41.5 422.5,30.9 423.0,23.4 423.5,23.3 424.0,28.4 424.5,33.2 425.0,38.9 425.5,45.5 426.0,52.5 426.5,57.3 427.0,63.6 427.5,68.8 428.0,73.1 428.5,78.1 429.0,82.7 429.5,88.7 430.0,95.0 430.5,99.6 431.0,102.5 431.5,104.6 432.0,105.2 432.5,105.6 433.0,106.0 433.5,105.9 434.0,106.1 434.5,106.0 435.0,106.0 435.5,105.8 436.0,106.0 436.5,106.0 437.0,105.8 437.5,106.1 438.0,105.8 438.5,105.9 439.0,105.8 439.5,105.9 440.0,106.0 440.5,105.8 441.0,106.1 441.5,105.9 442.0,106.0 442.5,106.0 443.0,105.9 443.5,105.9 444.0,106.0 444.5,106.0 445.0,105.9 445.5,106.0 446.0,105.9 446.5,105.8 447.0,105.9 447.5,105.8 448.0,105.8 448.5,106.1 449.0,105.9 449.5,106.1 450.0,106.1 450.5,105.8 451.0,106.1 451.5,106.1 452.0,105.8 452.5,106.1 453.0,106.0 453.5,106.0 454.0,106.1 454.5,105.9 455.0,106.0 455.5,106.1 456.0,106.1 456.5,106.0 457.0,106.2 457.5,106.1 458.0,106.0 458.5,105.9 459.0,106.0 459.5,106.0 460.0,105.9 460.5,105.8 461.0,106.0 461.5,105.9 462.0,106.0 462.5,106.1 463.0,106.0 463.5,105.9 464.0,106.0 464.5,106.0 465.0,106.1 465.5,106.0 466.0,106.2 466.5,106.2 467.0,106.1 467.5,105.9 468.0,105.9 468.5,106.1 469.0,106.1 469.5,106.0 470.0,105.9 470.5,105.9 471.0,106.1 471.5,106.0 472.0,106.0 472.5,106.0 473.0,106.1 473.5,105.9 474.0,105.9 474.5,106.2 475.0,106.1 475.5,106.1 476.0,105.8 476.5,105.8 477.0,105.9 477.5,106.0 478.0,106.0 478.5,105.9 479.0,106.0" fill="none" stroke="#222" stroke-width="0.9" stroke-linejoin="round" />
<polyline points="378.0,105.9 378.5,105.9 379.0,106.1 379.5,106.0 380.0,106.0 380.5,105.9 381.0,106.0 381.5,105.9 382.0,105.9 382.5,106.1 383.0,106.1 383.5,105.8 384.0,105.8 384.5,106.1 385.0,106.0 385.5,106.0 386.0,105.8 386.5,105.9 387.0,105.8 387.5,106.0 388.0,105.9 388.5,106.0 389.0,106.1 389.5,105.8 390.0,105.9 390.5,105.9 391.0,106.0 391.5,105.8 392.0,105.8 392.5,105.6 393.0,105.9 393.5,105.5 394.0,105.5 394.5,105.6 395.0,105.5 395.5,105.5 396.0,105.2 396.5,105.3 397.0,104.9 397.5,104.9 398.0,105.1 398.5,104.8 399.0,104.9 399.5,105.2 400.0,105.3 400.5,105.1 401.0,105.2 401.5,105.4 402.0,105.6 402.5,105.4 403.0,105.3 403.5,105.6 404.0,105.5 404.5,105.6 405.0,105.6 405.5,105.5 406.0,105.2 406.5,105.4 407.0,105.0 407.5,105.0 408.0,105.0 408.5,105.3 409.0,105.2 409.5,104.8 410.0,104.8 410.5,104.8 411.0,104.8 411.5,104.8 412.0,104.8 412.5,104.6 413.0,104.8 413.5,104.9 414.0,104.7 414.5,104.8 415.0,104.3 415.5,103.2 416.0,102.8 416.5,101.9 417.0,99.7 417.5,97.5 418.0,95.6 418.5,92.5 419.0,88.6 419.5,84.0 420.0,78.2 420.5,73.5 421.0,67.1 421.5,60.2 422.0,51.1 422.5,40.3 423.0,28.2 423.5,20.2 424.0,20.7 424.5,25.6 425.0,33.2 425.5,38.6 426.0,45.9 426.5,52.2 427.0,57.6 427.5,63.0 428.0,68.9 428.5,73.4 429.0,78.7 429.5,83.2 430.0,88.9 430.5,95.9 431.0,100.4 431.5,102.8 432.0,104.4 432.5,105.3 433.0,105.7 433.5,106.0 434.0,105.9 434.5,106.0 435.0,106.0 435.5,106.0 436.0,106.0 436.5,106.0 437.0,106.1 437.5,106.1 438.0,106.0 438.5,105.9 439.0,106.0 439.5,106.0 440.0,105.9 440.5,105.9 441.0,105.8 441.5,106.0 442.0,106.1 442.5,105.9 443.0,105.8 443.5,105.8 444.0,105.9 444.5,105.9 445.0,106.1 445.5,105.8 446.0,105.9 446.5,105.8 447.0,106.0 447.5,106.1 448.0,105.9 448.5,105.8 449.0,106.0 449.5,106.0 450.0,106.1 450.5,105.8 451.0,105.8 451.5,105.9 452.0,105.9 452.5,105.9 453.0,106.1 453.5,106.0 454.0,105.9 454.5,105.9 455.0,105.9 455.5,105.9 456.0,106.1 456.5,105.9 457.0,106.0 457.5,106.1 458.0,106.0 458.5,105.9 459.0,106.1 459.5,106.1 460.0,105.9 460.5,106.0 461.0,106.2 461.5,106.0 462.0,105.9 462.5,105.8 463.0,106.2 463.5,106.1 464.0,106.0 464.5,106.0 465.0,106.0 465.5,105.9 466.0,106.2 466.5,106.1 467.0,105.9 467.5,105.8 468.0,106.0 468.5,106.0 469.0,106.1 469.5,106.1 470.0,106.0 470.5,105.9 471.0,105.9 471.5,105.9 472.0,105.9 472.5,106.1 473.0,106.0 473.5,106.0 474.0,106.2 474.5,105.9 475.0,106.0 475.5,105.9 476.0,106.1 476.5,105.8 477.0,106.1 477.5,106.1 478.0,106.1 478.5,105.9 479.0,105.9 479.5,106.1" fill="none" stroke="#8a8a8a" stroke-width="0.8" stroke-linejoin="round" stroke-dasharray="1 0.7"/>
<polyline points="377.5,105.8 378.0,106.0 378.5,106.0 379.0,106.2 379.5,106.0 380.0,106.2 380.5,105.9 381.0,106.1 381.5,105.9 382.0,106.2 382.5,105.8 383.0,106.1 383.5,105.8 384.0,106.0 384.5,105.9 385.0,105.7 385.5,106.1 386.0,105.8 386.5,105.8 387.0,105.5 387.5,105.5 388.0,105.4 388.5,105.4 389.0,104.9 389.5,104.8 390.0,103.8 390.5,103.6 391.0,103.2 391.5,103.6 392.0,102.9 392.5,102.2 393.0,100.4 393.5,100.7 394.0,100.9 394.5,99.6 395.0,99.8 395.5,99.2 396.0,98.0 396.5,99.6 397.0,98.9 397.5,97.3 398.0,97.8 398.5,96.8 399.0,96.7 399.5,96.7 400.0,95.9 400.5,95.7 401.0,95.4 401.5,95.7 402.0,94.5 402.5,94.1 403.0,94.8 403.5,93.6 404.0,94.5 404.5,93.4 405.0,93.3 405.5,92.1 406.0,92.7 406.5,90.8 407.0,90.4 407.5,89.8 408.0,90.4 408.5,89.9 409.0,88.4 409.5,88.4 410.0,88.8 410.5,87.7 411.0,85.5 411.5,83.8 412.0,81.3 412.5,78.1 413.0,74.7 413.5,69.8 414.0,66.7 414.5,60.2 415.0,52.9 415.5,44.1 416.0,44.1 416.5,48.1 417.0,50.3 417.5,52.1 418.0,51.3 418.5,49.8 419.0,56.4 419.5,65.3 420.0,75.0 420.5,81.5 421.0,87.3 421.5,92.0 422.0,94.6 422.5,98.4 423.0,100.7 423.5,102.8 424.0,103.2 424.5,104.5 425.0,105.3 425.5,105.9 426.0,106.0 426.5,105.9 427.0,105.6 427.5,106.0 428.0,106.0 428.5,105.9 429.0,105.8 429.5,105.8 430.0,105.6 430.5,106.0 431.0,106.1 431.5,105.9 432.0,106.0 432.5,106.0 433.0,105.7 433.5,106.1 434.0,105.9 434.5,105.7 435.0,105.7 435.5,105.8 436.0,105.9 436.5,106.0 437.0,105.8 437.5,106.1 438.0,105.8 438.5,105.9 439.0,105.7 439.5,106.2 440.0,105.7 440.5,106.1 441.0,105.9 441.5,106.0 442.0,106.0 442.5,105.8 443.0,106.1 443.5,106.2 444.0,106.1 444.5,106.0 445.0,105.8 445.5,106.1 446.0,105.8 446.5,106.2 447.0,105.8 447.5,106.0 448.0,106.1 448.5,105.8 449.0,106.0 449.5,105.7 450.0,105.7 450.5,105.8 451.0,106.2 451.5,106.2 452.0,106.1 452.5,105.9 453.0,106.1 453.5,106.1 454.0,105.9 454.5,106.0 455.0,106.1 455.5,105.7 456.0,105.8 456.5,106.0 457.0,105.8 457.5,105.9 458.0,106.0 458.5,105.8 459.0,106.0 459.5,105.9 460.0,106.0 460.5,105.9 461.0,106.1 461.5,105.8 462.0,106.1 462.5,105.8 463.0,106.2 463.5,106.0 464.0,106.0 464.5,106.0 465.0,106.1 465.5,106.1 466.0,106.1 466.5,106.1 467.0,106.0 467.5,106.2 468.0,106.2 468.5,106.2 469.0,106.0 469.5,106.0 470.0,106.0 470.5,106.2 471.0,106.0 471.5,106.0 472.0,106.0 472.5,106.2 473.0,105.9 473.5,105.8 474.0,106.1 474.5,106.2 475.0,106.1 475.5,106.0 476.0,106.1 476.5,105.9 477.0,106.0 477.5,105.8 478.0,105.8 478.5,106.0 479.0,106.0" fill="none" stroke="#000" stroke-width="1.5" stroke-linejoin="round" />
<rect x="451.6" y="19.3" width="72" height="37.6" fill="#fff" stroke="#333" stroke-width="0.9"/>
<line x1="456" y1="26.1" x2="471.2" y2="26.1" stroke="#000" stroke-width="1.7" />
<line x1="456" y1="35.4" x2="471.2" y2="35.4" stroke="#222" stroke-width="0.9" />
<line x1="456" y1="47.5" x2="471.2" y2="47.5" stroke="#555" stroke-width="1.0" stroke-dasharray="1 0.7"/>
<text x="484.2" y="27.8" font-size="6.4" text-anchor="start" font-weight="bold" fill="#000" textLength="21.6" lengthAdjust="spacingAndGlyphs" >Diluent</text>
<text x="479.2" y="36.8" font-size="6.5" text-anchor="start" font-weight="bold" fill="#000" textLength="35.9" lengthAdjust="spacingAndGlyphs" >Adaphostin</text>
<text x="479.2" y="45.5" font-size="6.5" text-anchor="start" font-weight="bold" fill="#000" textLength="35.9" lengthAdjust="spacingAndGlyphs" >Adaphostin</text>
<text x="479.2" y="52.3" font-size="6.5" text-anchor="start" font-weight="bold" fill="#000" textLength="35.9" lengthAdjust="spacingAndGlyphs" >+ zVAD-fmk</text>
<text x="1" y="149.6" font-size="11.4" text-anchor="start" font-weight="bold" fill="#000" >E</text>
<line x1="22.2" y1="157.7" x2="22.2" y2="274.1" stroke="#000" stroke-width="1.2" />
<line x1="21.7" y1="273.6" x2="141.1" y2="273.6" stroke="#000" stroke-width="1.2" />
<line x1="22.2" y1="273.60" x2="24.8" y2="273.60" stroke="#000" stroke-width="0.7" />
<line x1="22.2" y1="262.02" x2="23.8" y2="262.02" stroke="#000" stroke-width="0.7" />
<line x1="22.2" y1="255.25" x2="23.8" y2="255.25" stroke="#000" stroke-width="0.7" />
<line x1="22.2" y1="250.44" x2="23.8" y2="250.44" stroke="#000" stroke-width="0.7" />
<line x1="22.2" y1="246.71" x2="23.8" y2="246.71" stroke="#000" stroke-width="0.7" />
<line x1="22.2" y1="243.67" x2="23.8" y2="243.67" stroke="#000" stroke-width="0.7" />
<line x1="22.2" y1="241.09" x2="23.8" y2="241.09" stroke="#000" stroke-width="0.7" />
<line x1="22.2" y1="238.86" x2="23.8" y2="238.86" stroke="#000" stroke-width="0.7" />
<line x1="22.2" y1="236.89" x2="23.8" y2="236.89" stroke="#000" stroke-width="0.7" />
<line x1="22.2" y1="235.13" x2="24.8" y2="235.13" stroke="#000" stroke-width="0.7" />
<line x1="22.2" y1="223.55" x2="23.8" y2="223.55" stroke="#000" stroke-width="0.7" />
<line x1="22.2" y1="216.78" x2="23.8" y2="216.78" stroke="#000" stroke-width="0.7" />
<line x1="22.2" y1="211.97" x2="23.8" y2="211.97" stroke="#000" stroke-width="0.7" />
<line x1="22.2" y1="208.25" x2="23.8" y2="208.25" stroke="#000" stroke-width="0.7" />
<line x1="22.2" y1="205.20" x2="23.8" y2="205.20" stroke="#000" stroke-width="0.7" />
<line x1="22.2" y1="202.63" x2="23.8" y2="202.63" stroke="#000" stroke-width="0.7" />
<line x1="22.2" y1="200.39" x2="23.8" y2="200.39" stroke="#000" stroke-width="0.7" />
<line x1="22.2" y1="198.43" x2="23.8" y2="198.43" stroke="#000" stroke-width="0.7" />
<line x1="22.2" y1="196.67" x2="24.8" y2="196.67" stroke="#000" stroke-width="0.7" />
<line x1="22.2" y1="185.09" x2="23.8" y2="185.09" stroke="#000" stroke-width="0.7" />
<line x1="22.2" y1="178.31" x2="23.8" y2="178.31" stroke="#000" stroke-width="0.7" />
<line x1="22.2" y1="173.51" x2="23.8" y2="173.51" stroke="#000" stroke-width="0.7" />
<line x1="22.2" y1="169.78" x2="23.8" y2="169.78" stroke="#000" stroke-width="0.7" />
<line x1="22.2" y1="166.73" x2="23.8" y2="166.73" stroke="#000" stroke-width="0.7" />
<line x1="22.2" y1="164.16" x2="23.8" y2="164.16" stroke="#000" stroke-width="0.7" />
<line x1="22.2" y1="161.93" x2="23.8" y2="161.93" stroke="#000" stroke-width="0.7" />
<line x1="22.2" y1="159.96" x2="23.8" y2="159.96" stroke="#000" stroke-width="0.7" />
<text x="18.4" y="161.0" font-size="7.8" text-anchor="end" font-weight="bold" fill="#000" >100</text>
<text x="18.4" y="199.4666666666667" font-size="7.8" text-anchor="end" font-weight="bold" fill="#000" >10</text>
<text x="18.4" y="237.93333333333337" font-size="7.8" text-anchor="end" font-weight="bold" fill="#000" >1</text>
<text x="18.4" y="276.40000000000003" font-size="7.8" text-anchor="end" font-weight="bold" fill="#000" >0.1</text>
<text x="22.4" y="283.4" font-size="7.8" text-anchor="middle" font-weight="bold" fill="#000" >0</text>
<line x1="61.7" y1="273.6" x2="61.7" y2="271.6" stroke="#000" stroke-width="0.9" />
<text x="61.900000000000006" y="283.4" font-size="7.8" text-anchor="middle" font-weight="bold" fill="#000" >5</text>
<line x1="101.2" y1="273.6" x2="101.2" y2="271.6" stroke="#000" stroke-width="0.9" />
<text x="101.4" y="283.4" font-size="7.8" text-anchor="middle" font-weight="bold" fill="#000" >10</text>
<line x1="140.7" y1="273.6" x2="140.7" y2="271.6" stroke="#000" stroke-width="0.9" />
<text x="140.89999999999998" y="283.4" font-size="7.8" text-anchor="middle" font-weight="bold" fill="#000" >15</text>
<text x="82.4" y="293.5" font-size="8.4" text-anchor="middle" font-weight="bold" textLength="67.7" lengthAdjust="spacingAndGlyphs">Adaphostin (<tspan font-style="italic">µ</tspan>M)</text>
<text transform="translate(7.0,221) rotate(-90)" font-size="8.4" text-anchor="middle" font-weight="bold" textLength="82" lengthAdjust="spacingAndGlyphs" >Colonies (% control)</text>
<polyline points="21.6,158.1 61.5,158.5 81.2,156.4 101.2,172.5 140.6,189.0" fill="none" stroke="#000" stroke-width="0.8" stroke-linejoin="round" />
<polyline points="41.2,158.1 61.5,164.9 81.2,178.9 101.2,195.0 140.6,267.8" fill="none" stroke="#000" stroke-width="0.8" stroke-linejoin="round" />
<line x1="101.2" y1="190.8" x2="101.2" y2="201" stroke="#000" stroke-width="0.7" />
<line x1="100" y1="190.8" x2="102.4" y2="190.8" stroke="#000" stroke-width="0.7" />
<line x1="100" y1="201" x2="102.4" y2="201" stroke="#000" stroke-width="0.7" />
<line x1="140.6" y1="249" x2="140.6" y2="268" stroke="#000" stroke-width="0.7" />
<line x1="139.4" y1="249" x2="141.8" y2="249" stroke="#000" stroke-width="0.7" />
<line x1="61.5" y1="162" x2="61.5" y2="168.5" stroke="#000" stroke-width="0.7" />
<circle cx="21.6" cy="158.1" r="3.0" fill="#000"/>
<circle cx="61.5" cy="158.5" r="3.0" fill="#000"/>
<circle cx="81.2" cy="156.4" r="3.0" fill="#000"/>
<circle cx="101.2" cy="172.5" r="3.0" fill="#000"/>
<circle cx="140.6" cy="189" r="3.0" fill="#000"/>
<circle cx="41.2" cy="158.1" r="2.6" fill="#fff" stroke="#000" stroke-width="0.9"/>
<circle cx="61.5" cy="164.9" r="2.6" fill="#fff" stroke="#000" stroke-width="0.9"/>
<circle cx="81.2" cy="178.9" r="2.6" fill="#fff" stroke="#000" stroke-width="0.9"/>
<circle cx="101.2" cy="195" r="2.6" fill="#fff" stroke="#000" stroke-width="0.9"/>
<circle cx="140.6" cy="267.8" r="2.6" fill="#fff" stroke="#000" stroke-width="0.9"/>
<text x="146.6" y="191.5" font-size="6.9" text-anchor="start" font-weight="bold" fill="#000" textLength="19" lengthAdjust="spacingAndGlyphs" >+NAC</text>
<text x="147.6" y="270.1" font-size="6.9" text-anchor="start" font-weight="bold" fill="#000" textLength="17" lengthAdjust="spacingAndGlyphs" >-NAC</text>
<text x="180.5" y="149.6" font-size="11.4" text-anchor="start" font-weight="bold" fill="#000" >F</text>
<polyline points="196.7,155.9 301.2,155.9 301.2,239.3" fill="none" stroke="#666" stroke-width="1.1"/>
<line x1="196.7" y1="155.5" x2="196.7" y2="239.8" stroke="#000" stroke-width="1.3" />
<line x1="196.2" y1="239.3" x2="301.59999999999997" y2="239.3" stroke="#000" stroke-width="1.3" />
<line x1="196.70" y1="239.3" x2="196.70" y2="236.70" stroke="#000" stroke-width="0.7" />
<line x1="204.56" y1="239.3" x2="204.56" y2="237.80" stroke="#000" stroke-width="0.7" />
<line x1="209.16" y1="239.3" x2="209.16" y2="237.80" stroke="#000" stroke-width="0.7" />
<line x1="212.43" y1="239.3" x2="212.43" y2="237.80" stroke="#000" stroke-width="0.7" />
<line x1="214.96" y1="239.3" x2="214.96" y2="237.80" stroke="#000" stroke-width="0.7" />
<line x1="217.03" y1="239.3" x2="217.03" y2="237.80" stroke="#000" stroke-width="0.7" />
<line x1="218.78" y1="239.3" x2="218.78" y2="237.80" stroke="#000" stroke-width="0.7" />
<line x1="220.29" y1="239.3" x2="220.29" y2="237.80" stroke="#000" stroke-width="0.7" />
<line x1="221.63" y1="239.3" x2="221.63" y2="237.80" stroke="#000" stroke-width="0.7" />
<line x1="222.82" y1="239.3" x2="222.82" y2="236.70" stroke="#000" stroke-width="0.7" />
<line x1="230.69" y1="239.3" x2="230.69" y2="237.80" stroke="#000" stroke-width="0.7" />
<line x1="235.29" y1="239.3" x2="235.29" y2="237.80" stroke="#000" stroke-width="0.7" />
<line x1="238.55" y1="239.3" x2="238.55" y2="237.80" stroke="#000" stroke-width="0.7" />
<line x1="241.09" y1="239.3" x2="241.09" y2="237.80" stroke="#000" stroke-width="0.7" />
<line x1="243.15" y1="239.3" x2="243.15" y2="237.80" stroke="#000" stroke-width="0.7" />
<line x1="244.90" y1="239.3" x2="244.90" y2="237.80" stroke="#000" stroke-width="0.7" />
<line x1="246.42" y1="239.3" x2="246.42" y2="237.80" stroke="#000" stroke-width="0.7" />
<line x1="247.75" y1="239.3" x2="247.75" y2="237.80" stroke="#000" stroke-width="0.7" />
<line x1="248.95" y1="239.3" x2="248.95" y2="236.70" stroke="#000" stroke-width="0.7" />
<line x1="256.81" y1="239.3" x2="256.81" y2="237.80" stroke="#000" stroke-width="0.7" />
<line x1="261.41" y1="239.3" x2="261.41" y2="237.80" stroke="#000" stroke-width="0.7" />
<line x1="264.68" y1="239.3" x2="264.68" y2="237.80" stroke="#000" stroke-width="0.7" />
<line x1="267.21" y1="239.3" x2="267.21" y2="237.80" stroke="#000" stroke-width="0.7" />
<line x1="269.28" y1="239.3" x2="269.28" y2="237.80" stroke="#000" stroke-width="0.7" />
<line x1="271.03" y1="239.3" x2="271.03" y2="237.80" stroke="#000" stroke-width="0.7" />
<line x1="272.54" y1="239.3" x2="272.54" y2="237.80" stroke="#000" stroke-width="0.7" />
<line x1="273.88" y1="239.3" x2="273.88" y2="237.80" stroke="#000" stroke-width="0.7" />
<line x1="275.07" y1="239.3" x2="275.07" y2="236.70" stroke="#000" stroke-width="0.7" />
<line x1="282.94" y1="239.3" x2="282.94" y2="237.80" stroke="#000" stroke-width="0.7" />
<line x1="287.54" y1="239.3" x2="287.54" y2="237.80" stroke="#000" stroke-width="0.7" />
<line x1="290.80" y1="239.3" x2="290.80" y2="237.80" stroke="#000" stroke-width="0.7" />
<line x1="293.34" y1="239.3" x2="293.34" y2="237.80" stroke="#000" stroke-width="0.7" />
<line x1="295.40" y1="239.3" x2="295.40" y2="237.80" stroke="#000" stroke-width="0.7" />
<line x1="297.15" y1="239.3" x2="297.15" y2="237.80" stroke="#000" stroke-width="0.7" />
<line x1="298.67" y1="239.3" x2="298.67" y2="237.80" stroke="#000" stroke-width="0.7" />
<line x1="300.00" y1="239.3" x2="300.00" y2="237.80" stroke="#000" stroke-width="0.7" />
<line x1="301.2" y1="239.3" x2="301.2" y2="236.70000000000002" stroke="#000" stroke-width="0.7" />
<line x1="196.7" y1="239.30" x2="199.29999999999998" y2="239.30" stroke="#000" stroke-width="0.6" />
<line x1="196.7" y1="237.23" x2="198.1" y2="237.23" stroke="#000" stroke-width="0.6" />
<line x1="196.7" y1="235.16" x2="198.1" y2="235.16" stroke="#000" stroke-width="0.6" />
<line x1="196.7" y1="233.09" x2="198.1" y2="233.09" stroke="#000" stroke-width="0.6" />
<line x1="196.7" y1="231.02" x2="198.1" y2="231.02" stroke="#000" stroke-width="0.6" />
<line x1="196.7" y1="228.95" x2="199.29999999999998" y2="228.95" stroke="#000" stroke-width="0.6" />
<line x1="196.7" y1="226.88" x2="198.1" y2="226.88" stroke="#000" stroke-width="0.6" />
<line x1="196.7" y1="224.81" x2="198.1" y2="224.81" stroke="#000" stroke-width="0.6" />
<line x1="196.7" y1="222.74" x2="198.1" y2="222.74" stroke="#000" stroke-width="0.6" />
<line x1="196.7" y1="220.67" x2="198.1" y2="220.67" stroke="#000" stroke-width="0.6" />
<line x1="196.7" y1="218.60" x2="199.29999999999998" y2="218.60" stroke="#000" stroke-width="0.6" />
<line x1="196.7" y1="216.53" x2="198.1" y2="216.53" stroke="#000" stroke-width="0.6" />
<line x1="196.7" y1="214.46" x2="198.1" y2="214.46" stroke="#000" stroke-width="0.6" />
<line x1="196.7" y1="212.39" x2="198.1" y2="212.39" stroke="#000" stroke-width="0.6" />
<line x1="196.7" y1="210.32" x2="198.1" y2="210.32" stroke="#000" stroke-width="0.6" />
<line x1="196.7" y1="208.25" x2="199.29999999999998" y2="208.25" stroke="#000" stroke-width="0.6" />
<line x1="196.7" y1="206.18" x2="198.1" y2="206.18" stroke="#000" stroke-width="0.6" />
<line x1="196.7" y1="204.11" x2="198.1" y2="204.11" stroke="#000" stroke-width="0.6" />
<line x1="196.7" y1="202.04" x2="198.1" y2="202.04" stroke="#000" stroke-width="0.6" />
<line x1="196.7" y1="199.97" x2="198.1" y2="199.97" stroke="#000" stroke-width="0.6" />
<line x1="196.7" y1="197.90" x2="199.29999999999998" y2="197.90" stroke="#000" stroke-width="0.6" />
<line x1="196.7" y1="195.83" x2="198.1" y2="195.83" stroke="#000" stroke-width="0.6" />
<line x1="196.7" y1="193.76" x2="198.1" y2="193.76" stroke="#000" stroke-width="0.6" />
<line x1="196.7" y1="191.69" x2="198.1" y2="191.69" stroke="#000" stroke-width="0.6" />
<line x1="196.7" y1="189.62" x2="198.1" y2="189.62" stroke="#000" stroke-width="0.6" />
<line x1="196.7" y1="187.55" x2="199.29999999999998" y2="187.55" stroke="#000" stroke-width="0.6" />
<line x1="196.7" y1="185.48" x2="198.1" y2="185.48" stroke="#000" stroke-width="0.6" />
<line x1="196.7" y1="183.41" x2="198.1" y2="183.41" stroke="#000" stroke-width="0.6" />
<line x1="196.7" y1="181.34" x2="198.1" y2="181.34" stroke="#000" stroke-width="0.6" />
<line x1="196.7" y1="179.27" x2="198.1" y2="179.27" stroke="#000" stroke-width="0.6" />
<line x1="196.7" y1="177.20" x2="199.29999999999998" y2="177.20" stroke="#000" stroke-width="0.6" />
<line x1="196.7" y1="175.13" x2="198.1" y2="175.13" stroke="#000" stroke-width="0.6" />
<line x1="196.7" y1="173.06" x2="198.1" y2="173.06" stroke="#000" stroke-width="0.6" />
<line x1="196.7" y1="170.99" x2="198.1" y2="170.99" stroke="#000" stroke-width="0.6" />
<line x1="196.7" y1="168.92" x2="198.1" y2="168.92" stroke="#000" stroke-width="0.6" />
<line x1="196.7" y1="166.85" x2="199.29999999999998" y2="166.85" stroke="#000" stroke-width="0.6" />
<line x1="196.7" y1="164.78" x2="198.1" y2="164.78" stroke="#000" stroke-width="0.6" />
<line x1="196.7" y1="162.71" x2="198.1" y2="162.71" stroke="#000" stroke-width="0.6" />
<line x1="196.7" y1="160.64" x2="198.1" y2="160.64" stroke="#000" stroke-width="0.6" />
<line x1="196.7" y1="158.57" x2="198.1" y2="158.57" stroke="#000" stroke-width="0.6" />
<line x1="196.7" y1="156.50" x2="199.29999999999998" y2="156.50" stroke="#000" stroke-width="0.6" />
<text transform="translate(193.2,239.3) rotate(-90)" font-size="3.8" text-anchor="middle" font-weight="normal" fill="#000">0</text>
<text transform="translate(193.2,229.0) rotate(-90)" font-size="3.8" text-anchor="middle" font-weight="normal" fill="#000">10</text>
<text transform="translate(193.2,218.6) rotate(-90)" font-size="3.8" text-anchor="middle" font-weight="normal" fill="#000">20</text>
<text transform="translate(193.2,208.2) rotate(-90)" font-size="3.8" text-anchor="middle" font-weight="normal" fill="#000">30</text>
<text transform="translate(193.2,197.9) rotate(-90)" font-size="3.8" text-anchor="middle" font-weight="normal" fill="#000">40</text>
<text transform="translate(193.2,187.6) rotate(-90)" font-size="3.8" text-anchor="middle" font-weight="normal" fill="#000">50</text>
<text transform="translate(193.2,177.2) rotate(-90)" font-size="3.8" text-anchor="middle" font-weight="normal" fill="#000">60</text>
<text transform="translate(193.2,166.9) rotate(-90)" font-size="3.8" text-anchor="middle" font-weight="normal" fill="#000">70</text>
<text transform="translate(193.2,156.5) rotate(-90)" font-size="3.8" text-anchor="middle" font-weight="normal" fill="#000">80</text>
<text x="195.3" y="245.9" font-size="4.7" text-anchor="middle" font-weight="normal" fill="#000">10<tspan dy="-2" font-size="3.4">0</tspan></text>
<text x="221.4" y="245.9" font-size="4.7" text-anchor="middle" font-weight="normal" fill="#000">10<tspan dy="-2" font-size="3.4">1</tspan></text>
<text x="247.5" y="245.9" font-size="4.7" text-anchor="middle" font-weight="normal" fill="#000">10<tspan dy="-2" font-size="3.4">2</tspan></text>
<text x="273.7" y="245.9" font-size="4.7" text-anchor="middle" font-weight="normal" fill="#000">10<tspan dy="-2" font-size="3.4">3</tspan></text>
<text x="299.8" y="245.9" font-size="4.7" text-anchor="middle" font-weight="normal" fill="#000">10<tspan dy="-2" font-size="3.4">4</tspan></text>
<text transform="translate(186.8,195.6) rotate(-90)" font-size="8.0" text-anchor="middle" font-weight="bold" textLength="71" lengthAdjust="spacingAndGlyphs" >Number of events</text>
<text x="249.5" y="254.8" font-size="8.0" text-anchor="middle" font-weight="bold" fill="#000" textLength="70" lengthAdjust="spacingAndGlyphs" >DCF Fluorescence</text>
<text x="202.7" y="164.9" font-size="8.0" text-anchor="start" font-weight="bold" fill="#000" textLength="51.1" lengthAdjust="spacingAndGlyphs" >Granulocytes</text>
<polyline points="197.0,233.0 197.6,232.2 198.2,233.2 198.8,232.8 199.4,232.1 200.0,232.2 200.6,232.3 201.2,232.0 201.8,231.6 202.4,233.0 203.0,232.6 203.6,231.6 204.2,231.7 204.8,231.0 205.4,232.1 206.0,231.6 206.6,233.0 207.2,233.2 207.8,234.4 208.4,233.5 209.0,235.1 209.6,234.4 210.2,235.4 210.8,236.2 211.4,235.3 212.0,235.9 212.6,236.2 213.2,236.5 213.8,236.5 214.4,237.4 215.0,237.5 215.6,237.3 216.2,237.5 216.8,237.7 217.4,237.5 218.0,237.6 218.6,238.1 219.2,237.7 219.8,237.4 220.4,237.3 221.0,236.8 221.6,235.4 222.2,233.6 222.8,232.0 223.4,231.1 224.0,228.7 224.6,224.1 225.2,221.2 225.8,215.7 226.4,211.0 227.0,204.7 227.6,199.7 228.2,194.0 228.8,186.8 229.4,182.0 230.0,175.5 230.6,170.7 231.2,166.4 231.8,169.0 232.4,171.1 233.0,167.7 233.6,168.4 234.2,170.5 234.8,173.4 235.4,175.6 236.0,180.7 236.6,185.9 237.2,190.0 237.8,194.2 238.4,199.8 239.0,205.5 239.6,211.0 240.2,213.6 240.8,216.7 241.4,219.6 242.0,222.9 242.6,225.1 243.2,226.0 243.8,227.8 244.4,229.4 245.0,229.8 245.6,230.0 246.2,230.7 246.8,232.2 247.4,232.1 248.0,231.6 248.6,232.5 249.2,231.7 249.8,233.5 250.4,232.6 251.0,233.0 251.6,233.1 252.2,232.4 252.8,233.6 253.4,233.3 254.0,233.4 254.6,234.5 255.2,233.5 255.8,234.0 256.4,235.0 257.0,234.3 257.6,234.6 258.2,235.1 258.8,234.8 259.4,235.9 260.0,236.2 260.6,235.1 261.2,235.8 261.8,236.3 262.4,236.1 263.0,236.8 263.6,236.5 264.2,236.3 264.8,236.8 265.4,237.0 266.0,236.9 266.6,237.3 267.2,237.5 267.8,237.4 268.4,237.5 269.0,237.8 269.6,237.8 270.2,237.8 270.8,238.2 271.4,237.8 272.0,238.2 272.6,237.9 273.2,238.2 273.8,238.0 274.4,238.1 275.0,238.4 275.6,238.4 276.2,238.4 276.8,238.2 277.4,238.3 278.0,238.2 278.6,238.4 279.2,238.4 279.8,238.2 280.4,238.4 281.0,238.5 281.6,238.4 282.2,238.6 282.8,238.3 283.4,238.2 284.0,238.2 284.6,238.4 285.2,238.4 285.8,238.4 286.4,238.3 287.0,238.5 287.6,238.2 288.2,238.6 288.8,238.4 289.4,238.4 290.0,238.5 290.6,238.3 291.2,238.2 291.8,238.3 292.4,238.2 293.0,238.3 293.6,238.5 294.2,238.4 294.8,238.3 295.4,238.4 296.0,238.2 296.6,238.5 297.2,238.3 297.8,238.3 298.4,238.2 299.0,238.5 299.6,238.5 300.2,238.5 300.8,238.2" fill="none" stroke="#9a9a9a" stroke-width="0.9" stroke-linejoin="round" />
<polyline points="197.0,233.0 197.6,232.8 198.2,232.3 198.8,233.6 199.4,231.8 200.0,232.5 200.6,233.0 201.2,233.4 201.8,231.8 202.4,232.2 203.0,232.2 203.6,230.5 204.2,230.5 204.8,231.8 205.4,230.9 206.0,231.9 206.6,232.2 207.2,232.9 207.8,232.9 208.4,233.3 209.0,235.4 209.6,235.4 210.2,235.6 210.8,235.3 211.4,235.6 212.0,236.3 212.6,236.2 213.2,236.6 213.8,237.3 214.4,237.0 215.0,237.2 215.6,237.8 216.2,237.6 216.8,237.4 217.4,237.7 218.0,238.0 218.6,237.6 219.2,237.8 219.8,237.9 220.4,237.8 221.0,237.4 221.6,237.3 222.2,236.6 222.8,236.0 223.4,235.4 224.0,233.0 224.6,231.5 225.2,228.1 225.8,225.0 226.4,220.5 227.0,216.5 227.6,211.1 228.2,206.3 228.8,201.1 229.4,196.1 230.0,189.7 230.6,184.1 231.2,180.5 231.8,176.0 232.4,172.9 233.0,169.1 233.6,167.7 234.2,166.1 234.8,168.3 235.4,170.7 236.0,173.9 236.6,177.8 237.2,182.7 237.8,187.2 238.4,191.9 239.0,197.3 239.6,201.4 240.2,205.3 240.8,209.8 241.4,213.0 242.0,217.5 242.6,219.5 243.2,222.8 243.8,225.0 244.4,227.0 245.0,226.7 245.6,228.4 246.2,229.4 246.8,229.6 247.4,231.6 248.0,231.0 248.6,232.1 249.2,231.9 249.8,231.2 250.4,232.0 251.0,231.9 251.6,231.7 252.2,232.1 252.8,233.1 253.4,232.3 254.0,233.0 254.6,233.4 255.2,233.8 255.8,233.3 256.4,234.5 257.0,234.0 257.6,234.9 258.2,235.0 258.8,234.4 259.4,234.7 260.0,235.0 260.6,235.8 261.2,235.6 261.8,235.8 262.4,236.5 263.0,236.0 263.6,236.2 264.2,236.4 264.8,236.5 265.4,236.5 266.0,236.6 266.6,237.2 267.2,237.3 267.8,237.6 268.4,237.8 269.0,237.4 269.6,237.7 270.2,238.0 270.8,237.6 271.4,238.0 272.0,238.0 272.6,238.2 273.2,238.2 273.8,237.9 274.4,238.2 275.0,237.9 275.6,238.2 276.2,238.2 276.8,238.0 277.4,238.2 278.0,238.2 278.6,238.3 279.2,238.3 279.8,238.2 280.4,238.4 281.0,238.4 281.6,238.3 282.2,238.5 282.8,238.3 283.4,238.2 284.0,238.3 284.6,238.4 285.2,238.2 285.8,238.4 286.4,238.5 287.0,238.4 287.6,238.5 288.2,238.2 288.8,238.4 289.4,238.3 290.0,238.2 290.6,238.4 291.2,238.2 291.8,238.4 292.4,238.4 293.0,238.4 293.6,238.3 294.2,238.3 294.8,238.2 295.4,238.3 296.0,238.6 296.6,238.4 297.2,238.3 297.8,238.5 298.4,238.3 299.0,238.4 299.6,238.5 300.2,238.6 300.8,238.3" fill="none" stroke="#555" stroke-width="0.7" stroke-linejoin="round" />
<polyline points="197.0,233.4 197.6,234.2 198.2,233.6 198.8,233.0 199.4,232.9 200.0,232.3 200.6,232.3 201.2,231.9 201.8,233.3 202.4,233.2 203.0,231.5 203.6,232.4 204.2,229.8 204.8,230.2 205.4,231.6 206.0,231.6 206.6,232.2 207.2,234.3 207.8,232.7 208.4,233.4 209.0,234.0 209.6,235.4 210.2,234.8 210.8,234.7 211.4,236.0 212.0,236.0 212.6,236.1 213.2,236.7 213.8,237.1 214.4,237.2 215.0,237.4 215.6,237.5 216.2,237.9 216.8,238.1 217.4,237.6 218.0,237.7 218.6,238.2 219.2,237.7 219.8,238.0 220.4,238.0 221.0,237.9 221.6,238.0 222.2,237.7 222.8,236.5 223.4,236.6 224.0,235.7 224.6,234.7 225.2,232.4 225.8,230.1 226.4,229.1 227.0,225.7 227.6,221.5 228.2,218.0 228.8,214.9 229.4,211.2 230.0,208.7 230.6,204.4 231.2,201.1 231.8,197.8 232.4,194.5 233.0,192.2 233.6,186.6 234.2,183.9 234.8,181.2 235.4,177.2 236.0,174.1 236.6,174.7 237.2,173.7 237.8,170.7 238.4,170.5 239.0,172.6 239.6,178.9 240.2,184.1 240.8,192.5 241.4,196.8 242.0,202.3 242.6,205.0 243.2,208.5 243.8,213.2 244.4,217.4 245.0,221.2 245.6,223.5 246.2,225.1 246.8,227.6 247.4,228.8 248.0,230.2 248.6,230.7 249.2,229.4 249.8,230.3 250.4,231.4 251.0,230.5 251.6,230.6 252.2,230.4 252.8,232.2 253.4,233.4 254.0,233.7 254.6,231.7 255.2,233.3 255.8,232.8 256.4,233.5 257.0,233.0 257.6,234.4 258.2,234.7 258.8,232.4 259.4,234.3 260.0,233.1 260.6,233.4 261.2,234.4 261.8,235.7 262.4,236.4 263.0,234.9 263.6,235.4 264.2,234.9 264.8,235.9 265.4,235.9 266.0,235.8 266.6,235.8 267.2,236.8 267.8,237.0 268.4,236.4 269.0,236.8 269.6,237.2 270.2,237.5 270.8,237.9 271.4,237.4 272.0,237.8 272.6,237.7 273.2,238.1 273.8,237.6 274.4,237.7 275.0,237.7 275.6,238.4 276.2,237.9 276.8,238.2 277.4,237.9 278.0,238.1 278.6,238.0 279.2,238.4 279.8,238.1 280.4,238.5 281.0,238.3 281.6,238.2 282.2,238.4 282.8,238.3 283.4,238.2 284.0,238.1 284.6,238.1 285.2,238.6 285.8,238.3 286.4,238.1 287.0,238.2 287.6,238.4 288.2,238.6 288.8,238.2 289.4,238.6 290.0,238.4 290.6,238.3 291.2,238.6 291.8,238.3 292.4,238.1 293.0,238.4 293.6,238.5 294.2,238.5 294.8,238.3 295.4,238.6 296.0,238.6 296.6,238.6 297.2,238.4 297.8,238.6 298.4,238.5 299.0,238.2 299.6,238.1 300.2,238.2 300.8,238.2" fill="none" stroke="#000" stroke-width="1.5" stroke-linejoin="round" />
<rect x="255.8" y="154.3" width="83.6" height="41" fill="#fff" stroke="#333" stroke-width="0.9"/>
<line x1="261.5" y1="162.5" x2="288" y2="162.5" stroke="#333" stroke-width="0.7" />
<line x1="261.5" y1="172.8" x2="288" y2="172.8" stroke="#000" stroke-width="1.5" />
<line x1="261.5" y1="186.5" x2="288" y2="186.5" stroke="#888" stroke-width="1.0" stroke-dasharray="1 0.7"/>
<text x="298.4" y="164.8" font-size="6.9" text-anchor="start" font-weight="bold" fill="#000" textLength="23.2" lengthAdjust="spacingAndGlyphs" >Diluent</text>
<text x="298.4" y="175.2" font-size="6.9" text-anchor="start" font-weight="bold" fill="#000" textLength="37.9" lengthAdjust="spacingAndGlyphs" >Adaphostin</text>
<text x="298.4" y="184.4" font-size="6.9" text-anchor="start" font-weight="bold" fill="#000" textLength="37.9" lengthAdjust="spacingAndGlyphs" >Adaphostin</text>
<text x="300.4" y="192.1" font-size="6.9" text-anchor="start" font-weight="bold" fill="#000" textLength="20.5" lengthAdjust="spacingAndGlyphs" >+ NAC</text>
<polyline points="342.6,155.9 451.6,155.9 451.6,239.3" fill="none" stroke="#666" stroke-width="1.1"/>
<line x1="342.6" y1="155.5" x2="342.6" y2="239.8" stroke="#555" stroke-width="0.9" />
<line x1="342.1" y1="239.3" x2="452.0" y2="239.3" stroke="#000" stroke-width="1.3" />
<line x1="342.60" y1="239.3" x2="342.60" y2="236.70" stroke="#000" stroke-width="0.7" />
<line x1="350.80" y1="239.3" x2="350.80" y2="237.80" stroke="#000" stroke-width="0.7" />
<line x1="355.60" y1="239.3" x2="355.60" y2="237.80" stroke="#000" stroke-width="0.7" />
<line x1="359.01" y1="239.3" x2="359.01" y2="237.80" stroke="#000" stroke-width="0.7" />
<line x1="361.65" y1="239.3" x2="361.65" y2="237.80" stroke="#000" stroke-width="0.7" />
<line x1="363.80" y1="239.3" x2="363.80" y2="237.80" stroke="#000" stroke-width="0.7" />
<line x1="365.63" y1="239.3" x2="365.63" y2="237.80" stroke="#000" stroke-width="0.7" />
<line x1="367.21" y1="239.3" x2="367.21" y2="237.80" stroke="#000" stroke-width="0.7" />
<line x1="368.60" y1="239.3" x2="368.60" y2="237.80" stroke="#000" stroke-width="0.7" />
<line x1="369.85" y1="239.3" x2="369.85" y2="236.70" stroke="#000" stroke-width="0.7" />
<line x1="378.05" y1="239.3" x2="378.05" y2="237.80" stroke="#000" stroke-width="0.7" />
<line x1="382.85" y1="239.3" x2="382.85" y2="237.80" stroke="#000" stroke-width="0.7" />
<line x1="386.26" y1="239.3" x2="386.26" y2="237.80" stroke="#000" stroke-width="0.7" />
<line x1="388.90" y1="239.3" x2="388.90" y2="237.80" stroke="#000" stroke-width="0.7" />
<line x1="391.05" y1="239.3" x2="391.05" y2="237.80" stroke="#000" stroke-width="0.7" />
<line x1="392.88" y1="239.3" x2="392.88" y2="237.80" stroke="#000" stroke-width="0.7" />
<line x1="394.46" y1="239.3" x2="394.46" y2="237.80" stroke="#000" stroke-width="0.7" />
<line x1="395.85" y1="239.3" x2="395.85" y2="237.80" stroke="#000" stroke-width="0.7" />
<line x1="397.10" y1="239.3" x2="397.10" y2="236.70" stroke="#000" stroke-width="0.7" />
<line x1="405.30" y1="239.3" x2="405.30" y2="237.80" stroke="#000" stroke-width="0.7" />
<line x1="410.10" y1="239.3" x2="410.10" y2="237.80" stroke="#000" stroke-width="0.7" />
<line x1="413.51" y1="239.3" x2="413.51" y2="237.80" stroke="#000" stroke-width="0.7" />
<line x1="416.15" y1="239.3" x2="416.15" y2="237.80" stroke="#000" stroke-width="0.7" />
<line x1="418.30" y1="239.3" x2="418.30" y2="237.80" stroke="#000" stroke-width="0.7" />
<line x1="420.13" y1="239.3" x2="420.13" y2="237.80" stroke="#000" stroke-width="0.7" />
<line x1="421.71" y1="239.3" x2="421.71" y2="237.80" stroke="#000" stroke-width="0.7" />
<line x1="423.10" y1="239.3" x2="423.10" y2="237.80" stroke="#000" stroke-width="0.7" />
<line x1="424.35" y1="239.3" x2="424.35" y2="236.70" stroke="#000" stroke-width="0.7" />
<line x1="432.55" y1="239.3" x2="432.55" y2="237.80" stroke="#000" stroke-width="0.7" />
<line x1="437.35" y1="239.3" x2="437.35" y2="237.80" stroke="#000" stroke-width="0.7" />
<line x1="440.76" y1="239.3" x2="440.76" y2="237.80" stroke="#000" stroke-width="0.7" />
<line x1="443.40" y1="239.3" x2="443.40" y2="237.80" stroke="#000" stroke-width="0.7" />
<line x1="445.55" y1="239.3" x2="445.55" y2="237.80" stroke="#000" stroke-width="0.7" />
<line x1="447.38" y1="239.3" x2="447.38" y2="237.80" stroke="#000" stroke-width="0.7" />
<line x1="448.96" y1="239.3" x2="448.96" y2="237.80" stroke="#000" stroke-width="0.7" />
<line x1="450.35" y1="239.3" x2="450.35" y2="237.80" stroke="#000" stroke-width="0.7" />
<line x1="451.6" y1="239.3" x2="451.6" y2="236.70000000000002" stroke="#000" stroke-width="0.7" />
<line x1="342.6" y1="239.30" x2="345.0" y2="239.30" stroke="#333" stroke-width="0.6" />
<line x1="342.6" y1="237.26" x2="343.90000000000003" y2="237.26" stroke="#333" stroke-width="0.6" />
<line x1="342.6" y1="235.22" x2="343.90000000000003" y2="235.22" stroke="#333" stroke-width="0.6" />
<line x1="342.6" y1="233.18" x2="343.90000000000003" y2="233.18" stroke="#333" stroke-width="0.6" />
<line x1="342.6" y1="231.14" x2="343.90000000000003" y2="231.14" stroke="#333" stroke-width="0.6" />
<line x1="342.6" y1="229.10" x2="345.0" y2="229.10" stroke="#333" stroke-width="0.6" />
<line x1="342.6" y1="227.06" x2="343.90000000000003" y2="227.06" stroke="#333" stroke-width="0.6" />
<line x1="342.6" y1="225.02" x2="343.90000000000003" y2="225.02" stroke="#333" stroke-width="0.6" />
<line x1="342.6" y1="222.98" x2="343.90000000000003" y2="222.98" stroke="#333" stroke-width="0.6" />
<line x1="342.6" y1="220.94" x2="343.90000000000003" y2="220.94" stroke="#333" stroke-width="0.6" />
<line x1="342.6" y1="218.90" x2="345.0" y2="218.90" stroke="#333" stroke-width="0.6" />
<line x1="342.6" y1="216.86" x2="343.90000000000003" y2="216.86" stroke="#333" stroke-width="0.6" />
<line x1="342.6" y1="214.82" x2="343.90000000000003" y2="214.82" stroke="#333" stroke-width="0.6" />
<line x1="342.6" y1="212.78" x2="343.90000000000003" y2="212.78" stroke="#333" stroke-width="0.6" />
<line x1="342.6" y1="210.74" x2="343.90000000000003" y2="210.74" stroke="#333" stroke-width="0.6" />
<line x1="342.6" y1="208.70" x2="345.0" y2="208.70" stroke="#333" stroke-width="0.6" />
<line x1="342.6" y1="206.66" x2="343.90000000000003" y2="206.66" stroke="#333" stroke-width="0.6" />
<line x1="342.6" y1="204.62" x2="343.90000000000003" y2="204.62" stroke="#333" stroke-width="0.6" />
<line x1="342.6" y1="202.58" x2="343.90000000000003" y2="202.58" stroke="#333" stroke-width="0.6" />
<line x1="342.6" y1="200.54" x2="343.90000000000003" y2="200.54" stroke="#333" stroke-width="0.6" />
<line x1="342.6" y1="198.50" x2="345.0" y2="198.50" stroke="#333" stroke-width="0.6" />
<line x1="342.6" y1="196.46" x2="343.90000000000003" y2="196.46" stroke="#333" stroke-width="0.6" />
<line x1="342.6" y1="194.42" x2="343.90000000000003" y2="194.42" stroke="#333" stroke-width="0.6" />
<line x1="342.6" y1="192.38" x2="343.90000000000003" y2="192.38" stroke="#333" stroke-width="0.6" />
<line x1="342.6" y1="190.34" x2="343.90000000000003" y2="190.34" stroke="#333" stroke-width="0.6" />
<line x1="342.6" y1="188.30" x2="345.0" y2="188.30" stroke="#333" stroke-width="0.6" />
<line x1="342.6" y1="186.26" x2="343.90000000000003" y2="186.26" stroke="#333" stroke-width="0.6" />
<line x1="342.6" y1="184.22" x2="343.90000000000003" y2="184.22" stroke="#333" stroke-width="0.6" />
<line x1="342.6" y1="182.18" x2="343.90000000000003" y2="182.18" stroke="#333" stroke-width="0.6" />
<line x1="342.6" y1="180.14" x2="343.90000000000003" y2="180.14" stroke="#333" stroke-width="0.6" />
<line x1="342.6" y1="178.10" x2="345.0" y2="178.10" stroke="#333" stroke-width="0.6" />
<line x1="342.6" y1="176.06" x2="343.90000000000003" y2="176.06" stroke="#333" stroke-width="0.6" />
<line x1="342.6" y1="174.02" x2="343.90000000000003" y2="174.02" stroke="#333" stroke-width="0.6" />
<line x1="342.6" y1="171.98" x2="343.90000000000003" y2="171.98" stroke="#333" stroke-width="0.6" />
<line x1="342.6" y1="169.94" x2="343.90000000000003" y2="169.94" stroke="#333" stroke-width="0.6" />
<line x1="342.6" y1="167.90" x2="345.0" y2="167.90" stroke="#333" stroke-width="0.6" />
<line x1="342.6" y1="165.86" x2="343.90000000000003" y2="165.86" stroke="#333" stroke-width="0.6" />
<line x1="342.6" y1="163.82" x2="343.90000000000003" y2="163.82" stroke="#333" stroke-width="0.6" />
<line x1="342.6" y1="161.78" x2="343.90000000000003" y2="161.78" stroke="#333" stroke-width="0.6" />
<line x1="342.6" y1="159.74" x2="343.90000000000003" y2="159.74" stroke="#333" stroke-width="0.6" />
<line x1="342.6" y1="157.70" x2="345.0" y2="157.70" stroke="#333" stroke-width="0.6" />
<line x1="342.6" y1="155.66" x2="343.90000000000003" y2="155.66" stroke="#333" stroke-width="0.6" />
<text transform="translate(339.4,239.3) rotate(-90)" font-size="3.8" text-anchor="middle" font-weight="normal" fill="#000">0</text>
<text transform="translate(339.4,229.1) rotate(-90)" font-size="3.8" text-anchor="middle" font-weight="normal" fill="#000">10</text>
<text transform="translate(339.4,218.9) rotate(-90)" font-size="3.8" text-anchor="middle" font-weight="normal" fill="#000">20</text>
<text transform="translate(339.4,208.7) rotate(-90)" font-size="3.8" text-anchor="middle" font-weight="normal" fill="#000">30</text>
<text transform="translate(339.4,198.5) rotate(-90)" font-size="3.8" text-anchor="middle" font-weight="normal" fill="#000">40</text>
<text x="341.2" y="245.9" font-size="4.7" text-anchor="middle" font-weight="normal" fill="#000">10<tspan dy="-2" font-size="3.4">0</tspan></text>
<text x="368.5" y="245.9" font-size="4.7" text-anchor="middle" font-weight="normal" fill="#000">10<tspan dy="-2" font-size="3.4">1</tspan></text>
<text x="395.7" y="245.9" font-size="4.7" text-anchor="middle" font-weight="normal" fill="#000">10<tspan dy="-2" font-size="3.4">2</tspan></text>
<text x="423.0" y="245.9" font-size="4.7" text-anchor="middle" font-weight="normal" fill="#000">10<tspan dy="-2" font-size="3.4">3</tspan></text>
<text x="450.2" y="245.9" font-size="4.7" text-anchor="middle" font-weight="normal" fill="#000">10<tspan dy="-2" font-size="3.4">4</tspan></text>
<text transform="translate(332.2,211.7) rotate(-90)" font-size="8.0" text-anchor="middle" font-weight="bold" textLength="30.1" lengthAdjust="spacingAndGlyphs" >Number</text>
<text x="398" y="254.8" font-size="8.0" text-anchor="middle" font-weight="bold" fill="#000" textLength="70" lengthAdjust="spacingAndGlyphs" >DCF Fluorescence</text>
<text x="344.8" y="164.4" font-size="8.0" text-anchor="start" font-weight="bold" fill="#000" textLength="70.5" lengthAdjust="spacingAndGlyphs" >Mononuclear Cells</text>
<polyline points="343.0,232.2 343.6,237.2 344.2,238.0 344.8,237.8 345.4,237.9 346.0,237.7 346.6,237.8 347.2,238.3 347.8,237.7 348.4,238.0 349.0,238.1 349.6,238.0 350.2,237.9 350.8,237.6 351.4,237.7 352.0,237.6 352.6,237.5 353.2,237.6 353.8,236.7 354.4,237.3 355.0,236.7 355.6,236.9 356.2,236.3 356.8,236.9 357.4,235.9 358.0,236.5 358.6,236.1 359.2,236.3 359.8,236.4 360.4,236.7 361.0,237.0 361.6,236.6 362.2,236.9 362.8,236.7 363.4,236.6 364.0,237.2 364.6,236.6 365.2,236.3 365.8,236.5 366.4,236.9 367.0,236.3 367.6,236.8 368.2,236.7 368.8,236.9 369.4,236.6 370.0,236.8 370.6,237.0 371.2,237.4 371.8,237.5 372.4,237.3 373.0,237.5 373.6,237.4 374.2,237.1 374.8,235.8 375.4,233.8 376.0,229.2 376.6,227.2 377.2,222.7 377.8,219.5 378.4,214.1 379.0,211.1 379.6,204.8 380.2,200.1 380.8,193.7 381.4,189.7 382.0,186.1 382.6,181.3 383.2,178.1 383.8,175.8 384.4,173.1 385.0,169.0 385.6,166.5 386.2,165.8 386.8,167.7 387.4,168.7 388.0,172.2 388.6,174.0 389.2,176.9 389.8,179.0 390.4,183.2 391.0,187.5 391.6,191.3 392.2,194.9 392.8,198.9 393.4,203.3 394.0,206.5 394.6,211.7 395.2,215.4 395.8,218.8 396.4,222.4 397.0,224.2 397.6,226.0 398.2,227.3 398.8,229.3 399.4,230.4 400.0,231.2 400.6,231.1 401.2,232.8 401.8,233.0 402.4,233.8 403.0,234.3 403.6,235.2 404.2,234.4 404.8,235.2 405.4,236.2 406.0,236.2 406.6,236.1 407.2,236.8 407.8,237.3 408.4,237.0 409.0,237.6 409.6,237.2 410.2,238.0 410.8,237.8 411.4,237.7 412.0,238.2 412.6,238.2 413.2,238.4 413.8,238.4 414.4,238.5 415.0,238.4 415.6,238.6 416.2,238.2 416.8,238.6 417.4,238.5 418.0,238.3 418.6,238.5 419.2,238.4 419.8,238.4 420.4,238.6 421.0,238.3 421.6,238.3 422.2,238.5 422.8,238.2 423.4,238.4 424.0,238.5 424.6,238.4 425.2,238.3 425.8,238.5 426.4,238.6 427.0,238.5 427.6,238.4 428.2,238.6 428.8,238.5 429.4,238.2 430.0,238.3 430.6,238.2 431.2,238.2 431.8,238.3 432.4,238.6 433.0,238.6 433.6,238.2 434.2,238.3 434.8,238.3 435.4,238.6 436.0,238.5 436.6,238.6 437.2,238.2 437.8,238.6 438.4,238.3 439.0,238.5 439.6,238.6 440.2,238.5 440.8,238.3 441.4,238.5 442.0,238.4 442.6,238.2 443.2,238.3 443.8,238.3 444.4,238.5 445.0,238.3 445.6,238.4 446.2,238.5 446.8,238.3 447.4,238.2 448.0,238.5 448.6,238.4 449.2,238.2 449.8,238.2 450.4,238.6 451.0,238.4" fill="none" stroke="#aaa" stroke-width="0.9" stroke-linejoin="round" />
<polyline points="343.0,232.7 343.6,237.1 344.2,238.1 344.8,238.0 345.4,238.1 346.0,237.9 346.6,237.9 347.2,237.9 347.8,237.8 348.4,238.1 349.0,237.9 349.6,238.1 350.2,237.7 350.8,237.6 351.4,237.5 352.0,237.7 352.6,237.1 353.2,237.3 353.8,236.8 354.4,237.0 355.0,236.6 355.6,237.0 356.2,236.4 356.8,236.8 357.4,236.6 358.0,236.4 358.6,236.9 359.2,236.3 359.8,236.8 360.4,236.7 361.0,236.6 361.6,236.3 362.2,236.7 362.8,236.6 363.4,236.7 364.0,237.2 364.6,236.6 365.2,236.9 365.8,236.8 366.4,236.4 367.0,236.5 367.6,236.2 368.2,237.0 368.8,236.5 369.4,236.8 370.0,237.0 370.6,237.6 371.2,237.7 371.8,237.7 372.4,237.6 373.0,237.3 373.6,237.9 374.2,237.3 374.8,237.4 375.4,237.4 376.0,237.6 376.6,237.5 377.2,236.4 377.8,235.4 378.4,233.1 379.0,228.7 379.6,227.0 380.2,224.0 380.8,220.6 381.4,217.4 382.0,213.7 382.6,211.2 383.2,208.1 383.8,206.0 384.4,203.1 385.0,200.2 385.6,195.9 386.2,193.1 386.8,188.5 387.4,184.1 388.0,180.6 388.6,175.6 389.2,172.9 389.8,170.1 390.4,169.7 391.0,170.0 391.6,173.2 392.2,175.4 392.8,180.3 393.4,184.2 394.0,189.1 394.6,194.0 395.2,196.4 395.8,199.8 396.4,203.6 397.0,206.4 397.6,209.2 398.2,210.7 398.8,214.0 399.4,216.0 400.0,218.2 400.6,219.0 401.2,221.5 401.8,222.4 402.4,225.4 403.0,226.8 403.6,227.9 404.2,227.5 404.8,229.1 405.4,230.3 406.0,231.1 406.6,231.1 407.2,232.9 407.8,232.6 408.4,233.5 409.0,233.3 409.6,234.6 410.2,234.3 410.8,234.6 411.4,235.4 412.0,235.3 412.6,236.1 413.2,235.5 413.8,235.8 414.4,235.4 415.0,235.7 415.6,236.0 416.2,236.2 416.8,236.1 417.4,236.6 418.0,235.9 418.6,236.8 419.2,236.2 419.8,237.1 420.4,236.8 421.0,236.8 421.6,237.1 422.2,237.5 422.8,237.8 423.4,237.6 424.0,237.5 424.6,237.7 425.2,238.2 425.8,238.2 426.4,238.3 427.0,238.1 427.6,238.3 428.2,238.2 428.8,238.2 429.4,238.3 430.0,238.6 430.6,238.5 431.2,238.6 431.8,238.2 432.4,238.4 433.0,238.2 433.6,238.3 434.2,238.2 434.8,238.6 435.4,238.3 436.0,238.4 436.6,238.5 437.2,238.6 437.8,238.6 438.4,238.4 439.0,238.4 439.6,238.6 440.2,238.4 440.8,238.3 441.4,238.5 442.0,238.3 442.6,238.3 443.2,238.4 443.8,238.4 444.4,238.3 445.0,238.4 445.6,238.4 446.2,238.2 446.8,238.6 447.4,238.2 448.0,238.4 448.6,238.4 449.2,238.4 449.8,238.3 450.4,238.2 451.0,238.3" fill="none" stroke="#444" stroke-width="0.7" stroke-linejoin="round" />
<polyline points="343.0,238.3 343.6,238.4 344.2,238.2 344.8,238.6 345.4,238.4 346.0,238.1 346.6,238.3 347.2,238.6 347.8,238.1 348.4,238.4 349.0,238.6 349.6,238.3 350.2,238.4 350.8,238.3 351.4,238.2 352.0,238.4 352.6,238.4 353.2,238.2 353.8,238.3 354.4,238.4 355.0,238.5 355.6,238.0 356.2,238.1 356.8,238.2 357.4,238.2 358.0,238.5 358.6,238.3 359.2,238.6 359.8,238.2 360.4,238.1 361.0,238.4 361.6,238.0 362.2,238.6 362.8,238.5 363.4,238.1 364.0,238.1 364.6,238.5 365.2,238.5 365.8,238.3 366.4,237.9 367.0,238.4 367.6,237.9 368.2,238.3 368.8,238.3 369.4,238.5 370.0,238.3 370.6,237.8 371.2,238.5 371.8,238.4 372.4,238.2 373.0,237.8 373.6,238.3 374.2,238.1 374.8,238.3 375.4,238.5 376.0,238.5 376.6,237.8 377.2,238.4 377.8,238.1 378.4,238.3 379.0,238.0 379.6,238.1 380.2,238.0 380.8,237.8 381.4,237.9 382.0,238.2 382.6,237.7 383.2,237.7 383.8,238.1 384.4,237.3 385.0,236.1 385.6,233.8 386.2,232.2 386.8,231.0 387.4,230.5 388.0,226.7 388.6,224.6 389.2,219.5 389.8,216.7 390.4,213.2 391.0,210.2 391.6,204.7 392.2,203.4 392.8,199.2 393.4,195.2 394.0,193.5 394.6,190.8 395.2,189.3 395.8,187.9 396.4,185.0 397.0,185.2 397.6,185.7 398.2,187.9 398.8,185.8 399.4,186.5 400.0,184.9 400.6,187.5 401.2,187.8 401.8,187.9 402.4,186.7 403.0,187.0 403.6,188.0 404.2,188.6 404.8,189.9 405.4,194.0 406.0,197.6 406.6,197.3 407.2,199.2 407.8,201.4 408.4,205.8 409.0,206.9 409.6,209.9 410.2,210.0 410.8,211.5 411.4,214.8 412.0,217.3 412.6,219.3 413.2,220.9 413.8,224.8 414.4,225.4 415.0,227.9 415.6,228.6 416.2,230.3 416.8,231.2 417.4,233.3 418.0,234.1 418.6,233.7 419.2,234.5 419.8,234.5 420.4,236.1 421.0,235.4 421.6,236.3 422.2,237.4 422.8,236.7 423.4,237.7 424.0,237.8 424.6,238.0 425.2,238.0 425.8,238.0 426.4,238.6 427.0,238.6 427.6,238.6 428.2,238.1 428.8,238.6 429.4,238.2 430.0,238.2 430.6,238.4 431.2,238.5 431.8,238.2 432.4,238.6 433.0,238.5 433.6,238.6 434.2,238.6 434.8,238.5 435.4,238.3 436.0,238.6 436.6,238.5 437.2,238.3 437.8,238.6 438.4,238.5 439.0,238.2 439.6,238.2 440.2,238.1 440.8,238.4 441.4,238.2 442.0,238.3 442.6,238.2 443.2,238.2 443.8,238.4 444.4,238.3 445.0,238.3 445.6,238.3 446.2,238.4 446.8,238.6 447.4,238.2 448.0,238.6 448.6,238.6 449.2,238.5 449.8,238.4 450.4,238.6 451.0,238.4" fill="none" stroke="#000" stroke-width="1.5" stroke-linejoin="round" />
</g>
</svg></body></html>
